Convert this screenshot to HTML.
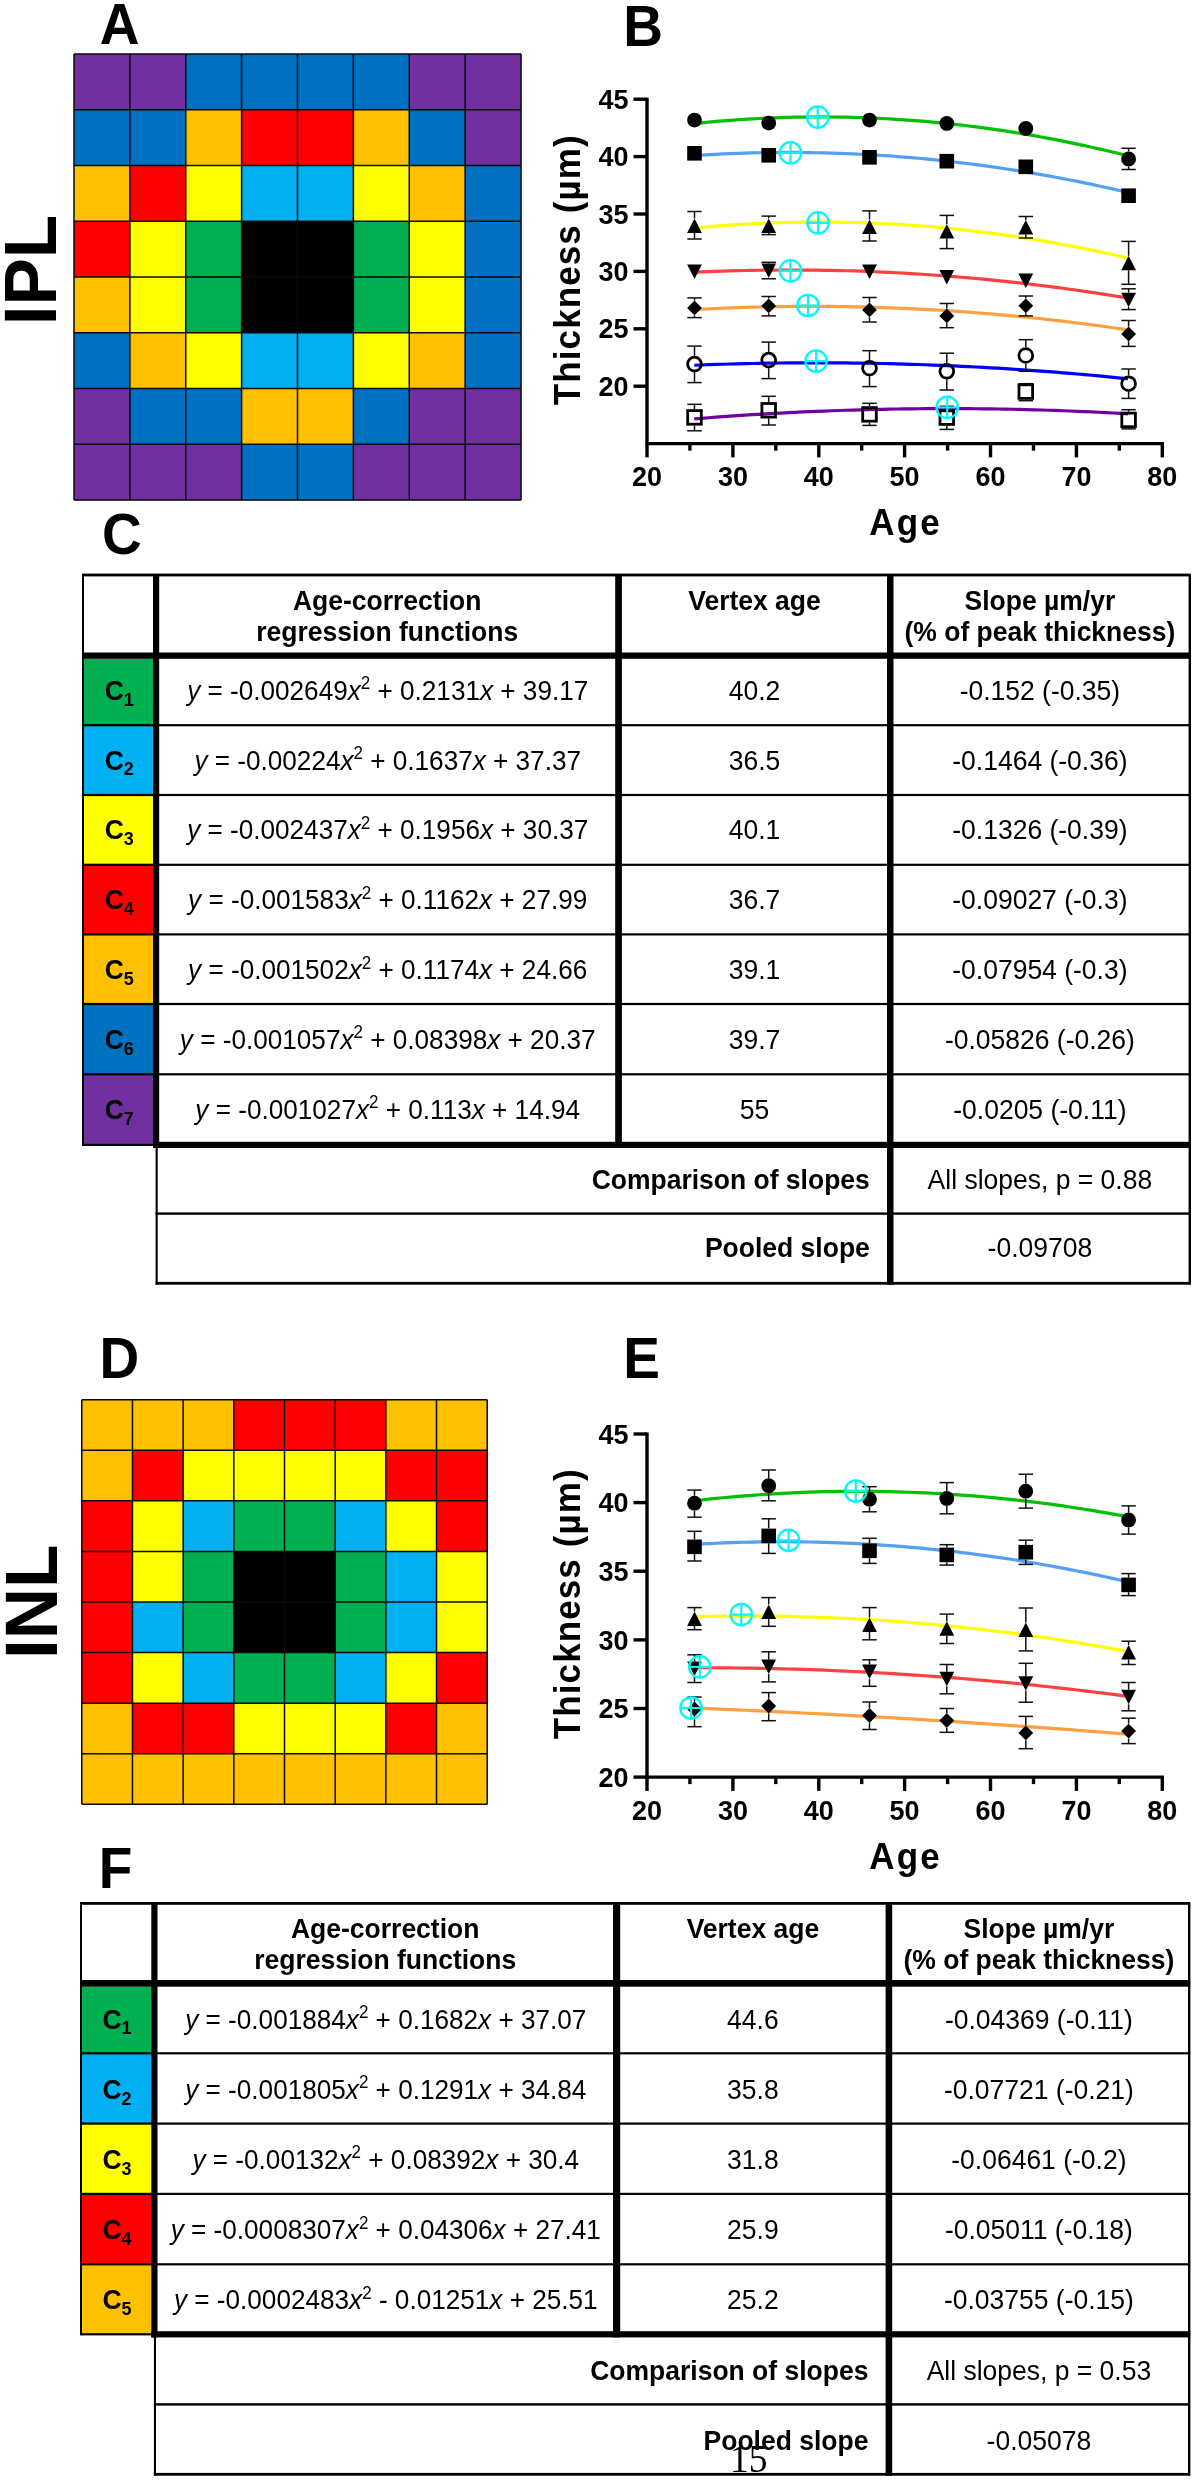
<!DOCTYPE html>
<html><head><meta charset="utf-8"><title>Figure</title><style>html,body{margin:0;padding:0;background:#fff;overflow:hidden}svg{display:block;will-change:transform}text{font-family:"Liberation Sans",sans-serif;fill:#000}</style></head><body>
<svg width="1195" height="2480" viewBox="0 0 1195 2480">
<rect x="0" y="0" width="1195" height="2480" fill="#fff"/>
<text x="99.8" y="43.7" font-size="55" font-weight="bold" text-anchor="start" transform="matrix(1 0 0 1.045 0 -1.97)" >A</text>
<text x="623.2" y="45.7" font-size="55" font-weight="bold" text-anchor="start" transform="matrix(1 0 0 1.045 0 -2.06)" >B</text>
<text x="102" y="553.8" font-size="55" font-weight="bold" text-anchor="start" transform="matrix(1 0 0 1.045 0 -24.92)" >C</text>
<text x="99.6" y="1378" font-size="55" font-weight="bold" text-anchor="start" transform="matrix(1 0 0 1.045 0 -62.01)" >D</text>
<text x="623.2" y="1377.9" font-size="55" font-weight="bold" text-anchor="start" transform="matrix(1 0 0 1.045 0 -62.01)" >E</text>
<text x="98.8" y="1887.7" font-size="55" font-weight="bold" text-anchor="start" transform="matrix(1 0 0 1.045 0 -84.95)" >F</text>
<text transform="translate(56.2,325.3) rotate(-90) scale(1,1.05)" font-size="71" font-weight="bold">IPL</text>
<text transform="translate(56.9,1659) rotate(-90) scale(1,1.05)" font-size="71" font-weight="bold">INL</text>
<rect x="74.00" y="54.00" width="56.17" height="56.05" fill="#7030A0"/>
<rect x="129.88" y="54.00" width="56.17" height="56.05" fill="#7030A0"/>
<rect x="185.75" y="54.00" width="56.17" height="56.05" fill="#0070C0"/>
<rect x="241.62" y="54.00" width="56.17" height="56.05" fill="#0070C0"/>
<rect x="297.50" y="54.00" width="56.17" height="56.05" fill="#0070C0"/>
<rect x="353.38" y="54.00" width="56.17" height="56.05" fill="#0070C0"/>
<rect x="409.25" y="54.00" width="56.17" height="56.05" fill="#7030A0"/>
<rect x="465.12" y="54.00" width="56.17" height="56.05" fill="#7030A0"/>
<rect x="74.00" y="109.75" width="56.17" height="56.05" fill="#0070C0"/>
<rect x="129.88" y="109.75" width="56.17" height="56.05" fill="#0070C0"/>
<rect x="185.75" y="109.75" width="56.17" height="56.05" fill="#FFC000"/>
<rect x="241.62" y="109.75" width="56.17" height="56.05" fill="#FF0000"/>
<rect x="297.50" y="109.75" width="56.17" height="56.05" fill="#FF0000"/>
<rect x="353.38" y="109.75" width="56.17" height="56.05" fill="#FFC000"/>
<rect x="409.25" y="109.75" width="56.17" height="56.05" fill="#0070C0"/>
<rect x="465.12" y="109.75" width="56.17" height="56.05" fill="#7030A0"/>
<rect x="74.00" y="165.50" width="56.17" height="56.05" fill="#FFC000"/>
<rect x="129.88" y="165.50" width="56.17" height="56.05" fill="#FF0000"/>
<rect x="185.75" y="165.50" width="56.17" height="56.05" fill="#FFFF00"/>
<rect x="241.62" y="165.50" width="56.17" height="56.05" fill="#00B0F0"/>
<rect x="297.50" y="165.50" width="56.17" height="56.05" fill="#00B0F0"/>
<rect x="353.38" y="165.50" width="56.17" height="56.05" fill="#FFFF00"/>
<rect x="409.25" y="165.50" width="56.17" height="56.05" fill="#FFC000"/>
<rect x="465.12" y="165.50" width="56.17" height="56.05" fill="#0070C0"/>
<rect x="74.00" y="221.25" width="56.17" height="56.05" fill="#FF0000"/>
<rect x="129.88" y="221.25" width="56.17" height="56.05" fill="#FFFF00"/>
<rect x="185.75" y="221.25" width="56.17" height="56.05" fill="#00B050"/>
<rect x="241.62" y="221.25" width="56.17" height="56.05" fill="#000000"/>
<rect x="297.50" y="221.25" width="56.17" height="56.05" fill="#000000"/>
<rect x="353.38" y="221.25" width="56.17" height="56.05" fill="#00B050"/>
<rect x="409.25" y="221.25" width="56.17" height="56.05" fill="#FFFF00"/>
<rect x="465.12" y="221.25" width="56.17" height="56.05" fill="#0070C0"/>
<rect x="74.00" y="277.00" width="56.17" height="56.05" fill="#FFC000"/>
<rect x="129.88" y="277.00" width="56.17" height="56.05" fill="#FFFF00"/>
<rect x="185.75" y="277.00" width="56.17" height="56.05" fill="#00B050"/>
<rect x="241.62" y="277.00" width="56.17" height="56.05" fill="#000000"/>
<rect x="297.50" y="277.00" width="56.17" height="56.05" fill="#000000"/>
<rect x="353.38" y="277.00" width="56.17" height="56.05" fill="#00B050"/>
<rect x="409.25" y="277.00" width="56.17" height="56.05" fill="#FFFF00"/>
<rect x="465.12" y="277.00" width="56.17" height="56.05" fill="#0070C0"/>
<rect x="74.00" y="332.75" width="56.17" height="56.05" fill="#0070C0"/>
<rect x="129.88" y="332.75" width="56.17" height="56.05" fill="#FFC000"/>
<rect x="185.75" y="332.75" width="56.17" height="56.05" fill="#FFFF00"/>
<rect x="241.62" y="332.75" width="56.17" height="56.05" fill="#00B0F0"/>
<rect x="297.50" y="332.75" width="56.17" height="56.05" fill="#00B0F0"/>
<rect x="353.38" y="332.75" width="56.17" height="56.05" fill="#FFFF00"/>
<rect x="409.25" y="332.75" width="56.17" height="56.05" fill="#FFC000"/>
<rect x="465.12" y="332.75" width="56.17" height="56.05" fill="#0070C0"/>
<rect x="74.00" y="388.50" width="56.17" height="56.05" fill="#7030A0"/>
<rect x="129.88" y="388.50" width="56.17" height="56.05" fill="#0070C0"/>
<rect x="185.75" y="388.50" width="56.17" height="56.05" fill="#0070C0"/>
<rect x="241.62" y="388.50" width="56.17" height="56.05" fill="#FFC000"/>
<rect x="297.50" y="388.50" width="56.17" height="56.05" fill="#FFC000"/>
<rect x="353.38" y="388.50" width="56.17" height="56.05" fill="#0070C0"/>
<rect x="409.25" y="388.50" width="56.17" height="56.05" fill="#7030A0"/>
<rect x="465.12" y="388.50" width="56.17" height="56.05" fill="#7030A0"/>
<rect x="74.00" y="444.25" width="56.17" height="56.05" fill="#7030A0"/>
<rect x="129.88" y="444.25" width="56.17" height="56.05" fill="#7030A0"/>
<rect x="185.75" y="444.25" width="56.17" height="56.05" fill="#7030A0"/>
<rect x="241.62" y="444.25" width="56.17" height="56.05" fill="#0070C0"/>
<rect x="297.50" y="444.25" width="56.17" height="56.05" fill="#0070C0"/>
<rect x="353.38" y="444.25" width="56.17" height="56.05" fill="#7030A0"/>
<rect x="409.25" y="444.25" width="56.17" height="56.05" fill="#7030A0"/>
<rect x="465.12" y="444.25" width="56.17" height="56.05" fill="#7030A0"/>
<line x1="74.00" y1="54.00" x2="74.00" y2="500.00" stroke="#0a0a0a" stroke-width="1.5"/>
<line x1="74.00" y1="54.00" x2="521.00" y2="54.00" stroke="#0a0a0a" stroke-width="1.5"/>
<line x1="129.88" y1="54.00" x2="129.88" y2="500.00" stroke="#0a0a0a" stroke-width="1.5"/>
<line x1="74.00" y1="109.75" x2="521.00" y2="109.75" stroke="#0a0a0a" stroke-width="1.5"/>
<line x1="185.75" y1="54.00" x2="185.75" y2="500.00" stroke="#0a0a0a" stroke-width="1.5"/>
<line x1="74.00" y1="165.50" x2="521.00" y2="165.50" stroke="#0a0a0a" stroke-width="1.5"/>
<line x1="241.62" y1="54.00" x2="241.62" y2="500.00" stroke="#0a0a0a" stroke-width="1.5"/>
<line x1="74.00" y1="221.25" x2="521.00" y2="221.25" stroke="#0a0a0a" stroke-width="1.5"/>
<line x1="297.50" y1="54.00" x2="297.50" y2="500.00" stroke="#0a0a0a" stroke-width="1.5"/>
<line x1="74.00" y1="277.00" x2="521.00" y2="277.00" stroke="#0a0a0a" stroke-width="1.5"/>
<line x1="353.38" y1="54.00" x2="353.38" y2="500.00" stroke="#0a0a0a" stroke-width="1.5"/>
<line x1="74.00" y1="332.75" x2="521.00" y2="332.75" stroke="#0a0a0a" stroke-width="1.5"/>
<line x1="409.25" y1="54.00" x2="409.25" y2="500.00" stroke="#0a0a0a" stroke-width="1.5"/>
<line x1="74.00" y1="388.50" x2="521.00" y2="388.50" stroke="#0a0a0a" stroke-width="1.5"/>
<line x1="465.12" y1="54.00" x2="465.12" y2="500.00" stroke="#0a0a0a" stroke-width="1.5"/>
<line x1="74.00" y1="444.25" x2="521.00" y2="444.25" stroke="#0a0a0a" stroke-width="1.5"/>
<line x1="521.00" y1="54.00" x2="521.00" y2="500.00" stroke="#0a0a0a" stroke-width="1.5"/>
<line x1="74.00" y1="500.00" x2="521.00" y2="500.00" stroke="#0a0a0a" stroke-width="1.5"/>
<rect x="81.80" y="1399.70" width="50.97" height="50.87" fill="#FFC000"/>
<rect x="132.47" y="1399.70" width="50.97" height="50.87" fill="#FFC000"/>
<rect x="183.15" y="1399.70" width="50.97" height="50.87" fill="#FFC000"/>
<rect x="233.82" y="1399.70" width="50.97" height="50.87" fill="#FF0000"/>
<rect x="284.50" y="1399.70" width="50.97" height="50.87" fill="#FF0000"/>
<rect x="335.18" y="1399.70" width="50.97" height="50.87" fill="#FF0000"/>
<rect x="385.85" y="1399.70" width="50.97" height="50.87" fill="#FFC000"/>
<rect x="436.52" y="1399.70" width="50.97" height="50.87" fill="#FFC000"/>
<rect x="81.80" y="1450.28" width="50.97" height="50.87" fill="#FFC000"/>
<rect x="132.47" y="1450.28" width="50.97" height="50.87" fill="#FF0000"/>
<rect x="183.15" y="1450.28" width="50.97" height="50.87" fill="#FFFF00"/>
<rect x="233.82" y="1450.28" width="50.97" height="50.87" fill="#FFFF00"/>
<rect x="284.50" y="1450.28" width="50.97" height="50.87" fill="#FFFF00"/>
<rect x="335.18" y="1450.28" width="50.97" height="50.87" fill="#FFFF00"/>
<rect x="385.85" y="1450.28" width="50.97" height="50.87" fill="#FF0000"/>
<rect x="436.52" y="1450.28" width="50.97" height="50.87" fill="#FF0000"/>
<rect x="81.80" y="1500.85" width="50.97" height="50.87" fill="#FF0000"/>
<rect x="132.47" y="1500.85" width="50.97" height="50.87" fill="#FFFF00"/>
<rect x="183.15" y="1500.85" width="50.97" height="50.87" fill="#00B0F0"/>
<rect x="233.82" y="1500.85" width="50.97" height="50.87" fill="#00B050"/>
<rect x="284.50" y="1500.85" width="50.97" height="50.87" fill="#00B050"/>
<rect x="335.18" y="1500.85" width="50.97" height="50.87" fill="#00B0F0"/>
<rect x="385.85" y="1500.85" width="50.97" height="50.87" fill="#FFFF00"/>
<rect x="436.52" y="1500.85" width="50.97" height="50.87" fill="#FF0000"/>
<rect x="81.80" y="1551.42" width="50.97" height="50.87" fill="#FF0000"/>
<rect x="132.47" y="1551.42" width="50.97" height="50.87" fill="#FFFF00"/>
<rect x="183.15" y="1551.42" width="50.97" height="50.87" fill="#00B050"/>
<rect x="233.82" y="1551.42" width="50.97" height="50.87" fill="#000000"/>
<rect x="284.50" y="1551.42" width="50.97" height="50.87" fill="#000000"/>
<rect x="335.18" y="1551.42" width="50.97" height="50.87" fill="#00B050"/>
<rect x="385.85" y="1551.42" width="50.97" height="50.87" fill="#00B0F0"/>
<rect x="436.52" y="1551.42" width="50.97" height="50.87" fill="#FFFF00"/>
<rect x="81.80" y="1602.00" width="50.97" height="50.87" fill="#FF0000"/>
<rect x="132.47" y="1602.00" width="50.97" height="50.87" fill="#00B0F0"/>
<rect x="183.15" y="1602.00" width="50.97" height="50.87" fill="#00B050"/>
<rect x="233.82" y="1602.00" width="50.97" height="50.87" fill="#000000"/>
<rect x="284.50" y="1602.00" width="50.97" height="50.87" fill="#000000"/>
<rect x="335.18" y="1602.00" width="50.97" height="50.87" fill="#00B050"/>
<rect x="385.85" y="1602.00" width="50.97" height="50.87" fill="#00B0F0"/>
<rect x="436.52" y="1602.00" width="50.97" height="50.87" fill="#FFFF00"/>
<rect x="81.80" y="1652.58" width="50.97" height="50.87" fill="#FF0000"/>
<rect x="132.47" y="1652.58" width="50.97" height="50.87" fill="#FFFF00"/>
<rect x="183.15" y="1652.58" width="50.97" height="50.87" fill="#00B0F0"/>
<rect x="233.82" y="1652.58" width="50.97" height="50.87" fill="#00B050"/>
<rect x="284.50" y="1652.58" width="50.97" height="50.87" fill="#00B050"/>
<rect x="335.18" y="1652.58" width="50.97" height="50.87" fill="#00B0F0"/>
<rect x="385.85" y="1652.58" width="50.97" height="50.87" fill="#FFFF00"/>
<rect x="436.52" y="1652.58" width="50.97" height="50.87" fill="#FF0000"/>
<rect x="81.80" y="1703.15" width="50.97" height="50.87" fill="#FFC000"/>
<rect x="132.47" y="1703.15" width="50.97" height="50.87" fill="#FF0000"/>
<rect x="183.15" y="1703.15" width="50.97" height="50.87" fill="#FF0000"/>
<rect x="233.82" y="1703.15" width="50.97" height="50.87" fill="#FFFF00"/>
<rect x="284.50" y="1703.15" width="50.97" height="50.87" fill="#FFFF00"/>
<rect x="335.18" y="1703.15" width="50.97" height="50.87" fill="#FFFF00"/>
<rect x="385.85" y="1703.15" width="50.97" height="50.87" fill="#FF0000"/>
<rect x="436.52" y="1703.15" width="50.97" height="50.87" fill="#FFC000"/>
<rect x="81.80" y="1753.72" width="50.97" height="50.87" fill="#FFC000"/>
<rect x="132.47" y="1753.72" width="50.97" height="50.87" fill="#FFC000"/>
<rect x="183.15" y="1753.72" width="50.97" height="50.87" fill="#FFC000"/>
<rect x="233.82" y="1753.72" width="50.97" height="50.87" fill="#FFC000"/>
<rect x="284.50" y="1753.72" width="50.97" height="50.87" fill="#FFC000"/>
<rect x="335.18" y="1753.72" width="50.97" height="50.87" fill="#FFC000"/>
<rect x="385.85" y="1753.72" width="50.97" height="50.87" fill="#FFC000"/>
<rect x="436.52" y="1753.72" width="50.97" height="50.87" fill="#FFC000"/>
<line x1="81.80" y1="1399.70" x2="81.80" y2="1804.30" stroke="#0a0a0a" stroke-width="1.5"/>
<line x1="81.80" y1="1399.70" x2="487.20" y2="1399.70" stroke="#0a0a0a" stroke-width="1.5"/>
<line x1="132.47" y1="1399.70" x2="132.47" y2="1804.30" stroke="#0a0a0a" stroke-width="1.5"/>
<line x1="81.80" y1="1450.28" x2="487.20" y2="1450.28" stroke="#0a0a0a" stroke-width="1.5"/>
<line x1="183.15" y1="1399.70" x2="183.15" y2="1804.30" stroke="#0a0a0a" stroke-width="1.5"/>
<line x1="81.80" y1="1500.85" x2="487.20" y2="1500.85" stroke="#0a0a0a" stroke-width="1.5"/>
<line x1="233.82" y1="1399.70" x2="233.82" y2="1804.30" stroke="#0a0a0a" stroke-width="1.5"/>
<line x1="81.80" y1="1551.42" x2="487.20" y2="1551.42" stroke="#0a0a0a" stroke-width="1.5"/>
<line x1="284.50" y1="1399.70" x2="284.50" y2="1804.30" stroke="#0a0a0a" stroke-width="1.5"/>
<line x1="81.80" y1="1602.00" x2="487.20" y2="1602.00" stroke="#0a0a0a" stroke-width="1.5"/>
<line x1="335.18" y1="1399.70" x2="335.18" y2="1804.30" stroke="#0a0a0a" stroke-width="1.5"/>
<line x1="81.80" y1="1652.58" x2="487.20" y2="1652.58" stroke="#0a0a0a" stroke-width="1.5"/>
<line x1="385.85" y1="1399.70" x2="385.85" y2="1804.30" stroke="#0a0a0a" stroke-width="1.5"/>
<line x1="81.80" y1="1703.15" x2="487.20" y2="1703.15" stroke="#0a0a0a" stroke-width="1.5"/>
<line x1="436.52" y1="1399.70" x2="436.52" y2="1804.30" stroke="#0a0a0a" stroke-width="1.5"/>
<line x1="81.80" y1="1753.72" x2="487.20" y2="1753.72" stroke="#0a0a0a" stroke-width="1.5"/>
<line x1="487.20" y1="1399.70" x2="487.20" y2="1804.30" stroke="#0a0a0a" stroke-width="1.5"/>
<line x1="81.80" y1="1804.30" x2="487.20" y2="1804.30" stroke="#0a0a0a" stroke-width="1.5"/>
<polyline points="694.23,123.52 701.46,122.79 708.69,122.10 715.92,121.45 723.15,120.85 730.38,120.29 737.60,119.77 744.83,119.30 752.06,118.87 759.29,118.48 766.52,118.14 773.74,117.84 780.97,117.58 788.20,117.36 795.43,117.19 802.66,117.06 809.89,116.98 817.11,116.93 824.34,116.93 831.57,116.98 838.80,117.06 846.03,117.19 853.26,117.37 860.48,117.58 867.71,117.84 874.94,118.14 882.17,118.49 889.40,118.88 896.62,119.31 903.85,119.78 911.08,120.30 918.31,120.86 925.54,121.46 932.77,122.11 939.99,122.80 947.22,123.53 954.45,124.31 961.68,125.13 968.91,125.99 976.14,126.89 983.36,127.84 990.59,128.83 997.82,129.87 1005.05,130.94 1012.28,132.07 1019.50,133.23 1026.73,134.44 1033.96,135.69 1041.19,136.98 1048.42,138.31 1055.65,139.69 1062.87,141.12 1070.10,142.58 1077.33,144.09 1084.56,145.64 1091.79,147.24 1099.02,148.87 1106.24,150.55 1113.47,152.28 1120.70,154.04 1127.93,155.85" fill="none" stroke="#00C000" stroke-width="3.2"/>
<polyline points="694.23,155.59 701.46,155.13 708.69,154.71 715.92,154.32 723.15,153.97 730.38,153.66 737.60,153.38 744.83,153.14 752.06,152.93 759.29,152.77 766.52,152.63 773.74,152.54 780.97,152.48 788.20,152.46 795.43,152.47 802.66,152.52 809.89,152.61 817.11,152.73 824.34,152.89 831.57,153.09 838.80,153.32 846.03,153.59 853.26,153.90 860.48,154.24 867.71,154.62 874.94,155.03 882.17,155.48 889.40,155.97 896.62,156.49 903.85,157.05 911.08,157.65 918.31,158.28 925.54,158.95 932.77,159.66 939.99,160.40 947.22,161.18 954.45,162.00 961.68,162.85 968.91,163.74 976.14,164.66 983.36,165.62 990.59,166.62 997.82,167.65 1005.05,168.73 1012.28,169.83 1019.50,170.98 1026.73,172.16 1033.96,173.37 1041.19,174.62 1048.42,175.91 1055.65,177.24 1062.87,178.60 1070.10,180.00 1077.33,181.43 1084.56,182.91 1091.79,184.41 1099.02,185.96 1106.24,187.54 1113.47,189.16 1120.70,190.81 1127.93,192.50" fill="none" stroke="#55A0F5" stroke-width="3.2"/>
<polyline points="694.23,228.08 701.46,227.42 708.69,226.79 715.92,226.20 723.15,225.65 730.38,225.13 737.60,224.66 744.83,224.23 752.06,223.84 759.29,223.49 766.52,223.18 773.74,222.90 780.97,222.67 788.20,222.48 795.43,222.32 802.66,222.21 809.89,222.13 817.11,222.10 824.34,222.10 831.57,222.15 838.80,222.23 846.03,222.35 853.26,222.52 860.48,222.72 867.71,222.96 874.94,223.24 882.17,223.57 889.40,223.93 896.62,224.33 903.85,224.77 911.08,225.25 918.31,225.77 925.54,226.33 932.77,226.93 939.99,227.57 947.22,228.25 954.45,228.96 961.68,229.72 968.91,230.52 976.14,231.36 983.36,232.23 990.59,233.15 997.82,234.10 1005.05,235.10 1012.28,236.14 1019.50,237.21 1026.73,238.32 1033.96,239.48 1041.19,240.67 1048.42,241.91 1055.65,243.18 1062.87,244.49 1070.10,245.84 1077.33,247.24 1084.56,248.67 1091.79,250.14 1099.02,251.65 1106.24,253.20 1113.47,254.79 1120.70,256.42 1127.93,258.09" fill="none" stroke="#FFFF00" stroke-width="3.2"/>
<polyline points="694.23,272.28 701.46,271.95 708.69,271.64 715.92,271.36 723.15,271.11 730.38,270.88 737.60,270.68 744.83,270.51 752.06,270.36 759.29,270.23 766.52,270.14 773.74,270.06 780.97,270.02 788.20,270.00 795.43,270.00 802.66,270.03 809.89,270.09 817.11,270.17 824.34,270.28 831.57,270.41 838.80,270.57 846.03,270.76 853.26,270.97 860.48,271.20 867.71,271.47 874.94,271.75 882.17,272.07 889.40,272.41 896.62,272.77 903.85,273.16 911.08,273.58 918.31,274.02 925.54,274.49 932.77,274.99 939.99,275.51 947.22,276.05 954.45,276.62 961.68,277.22 968.91,277.84 976.14,278.49 983.36,279.17 990.59,279.87 997.82,280.59 1005.05,281.34 1012.28,282.12 1019.50,282.92 1026.73,283.75 1033.96,284.61 1041.19,285.49 1048.42,286.39 1055.65,287.32 1062.87,288.28 1070.10,289.27 1077.33,290.27 1084.56,291.31 1091.79,292.37 1099.02,293.46 1106.24,294.57 1113.47,295.71 1120.70,296.87 1127.93,298.06" fill="none" stroke="#FF4040" stroke-width="3.2"/>
<polyline points="694.23,309.55 701.46,309.17 708.69,308.81 715.92,308.48 723.15,308.17 730.38,307.88 737.60,307.62 744.83,307.39 752.06,307.18 759.29,306.99 766.52,306.83 773.74,306.69 780.97,306.58 788.20,306.49 795.43,306.42 802.66,306.38 809.89,306.37 817.11,306.38 824.34,306.41 831.57,306.47 838.80,306.55 846.03,306.66 853.26,306.79 860.48,306.94 867.71,307.12 874.94,307.33 882.17,307.56 889.40,307.81 896.62,308.09 903.85,308.39 911.08,308.72 918.31,309.07 925.54,309.44 932.77,309.84 939.99,310.27 947.22,310.71 954.45,311.19 961.68,311.68 968.91,312.21 976.14,312.75 983.36,313.32 990.59,313.92 997.82,314.54 1005.05,315.18 1012.28,315.85 1019.50,316.54 1026.73,317.26 1033.96,318.00 1041.19,318.77 1048.42,319.56 1055.65,320.37 1062.87,321.21 1070.10,322.08 1077.33,322.97 1084.56,323.88 1091.79,324.82 1099.02,325.78 1106.24,326.76 1113.47,327.78 1120.70,328.81 1127.93,329.87" fill="none" stroke="#FFA040" stroke-width="3.2"/>
<polyline points="694.23,365.26 701.46,364.98 708.69,364.71 715.92,364.46 723.15,364.23 730.38,364.02 737.60,363.82 744.83,363.65 752.06,363.48 759.29,363.34 766.52,363.21 773.74,363.10 780.97,363.01 788.20,362.93 795.43,362.88 802.66,362.83 809.89,362.81 817.11,362.80 824.34,362.81 831.57,362.84 838.80,362.89 846.03,362.95 853.26,363.03 860.48,363.12 867.71,363.24 874.94,363.37 882.17,363.51 889.40,363.68 896.62,363.86 903.85,364.06 911.08,364.28 918.31,364.51 925.54,364.76 932.77,365.03 939.99,365.32 947.22,365.62 954.45,365.94 961.68,366.28 968.91,366.63 976.14,367.00 983.36,367.39 990.59,367.79 997.82,368.22 1005.05,368.66 1012.28,369.12 1019.50,369.59 1026.73,370.08 1033.96,370.59 1041.19,371.12 1048.42,371.66 1055.65,372.22 1062.87,372.80 1070.10,373.39 1077.33,374.00 1084.56,374.63 1091.79,375.28 1099.02,375.94 1106.24,376.62 1113.47,377.32 1120.70,378.04 1127.93,378.77" fill="none" stroke="#0000FF" stroke-width="3.2"/>
<polyline points="694.23,418.88 701.46,418.30 708.69,417.74 715.92,417.19 723.15,416.67 730.38,416.16 737.60,415.66 744.83,415.18 752.06,414.72 759.29,414.28 766.52,413.85 773.74,413.44 780.97,413.05 788.20,412.67 795.43,412.31 802.66,411.97 809.89,411.64 817.11,411.33 824.34,411.04 831.57,410.76 838.80,410.50 846.03,410.26 853.26,410.03 860.48,409.82 867.71,409.63 874.94,409.45 882.17,409.29 889.40,409.15 896.62,409.02 903.85,408.91 911.08,408.82 918.31,408.74 925.54,408.68 932.77,408.64 939.99,408.61 947.22,408.61 954.45,408.61 961.68,408.64 968.91,408.68 976.14,408.73 983.36,408.81 990.59,408.90 997.82,409.01 1005.05,409.13 1012.28,409.27 1019.50,409.43 1026.73,409.60 1033.96,409.79 1041.19,410.00 1048.42,410.23 1055.65,410.47 1062.87,410.73 1070.10,411.00 1077.33,411.29 1084.56,411.60 1091.79,411.92 1099.02,412.27 1106.24,412.62 1113.47,413.00 1120.70,413.39 1127.93,413.80" fill="none" stroke="#7000A0" stroke-width="3.2"/>
<line x1="1128.6" y1="148.3" x2="1128.6" y2="151.5" stroke="#111" stroke-width="1.5"/>
<line x1="1128.6" y1="166.3" x2="1128.6" y2="169.5" stroke="#111" stroke-width="1.5"/>
<line x1="1121.4" y1="148.3" x2="1135.8" y2="148.3" stroke="#111" stroke-width="1.5"/>
<line x1="1121.4" y1="169.5" x2="1135.8" y2="169.5" stroke="#111" stroke-width="1.5"/>
<line x1="694.5" y1="211.5" x2="694.5" y2="218.4" stroke="#111" stroke-width="1.5"/>
<line x1="694.5" y1="232.9" x2="694.5" y2="239.0" stroke="#111" stroke-width="1.5"/>
<line x1="687.3" y1="211.5" x2="701.7" y2="211.5" stroke="#111" stroke-width="1.5"/>
<line x1="687.3" y1="239.0" x2="701.7" y2="239.0" stroke="#111" stroke-width="1.5"/>
<line x1="768.7" y1="216.1" x2="768.7" y2="218.4" stroke="#111" stroke-width="1.5"/>
<line x1="768.7" y1="232.9" x2="768.7" y2="234.6" stroke="#111" stroke-width="1.5"/>
<line x1="761.5" y1="216.1" x2="775.9" y2="216.1" stroke="#111" stroke-width="1.5"/>
<line x1="761.5" y1="234.6" x2="775.9" y2="234.6" stroke="#111" stroke-width="1.5"/>
<line x1="869.5" y1="210.9" x2="869.5" y2="219.4" stroke="#111" stroke-width="1.5"/>
<line x1="869.5" y1="233.9" x2="869.5" y2="241.0" stroke="#111" stroke-width="1.5"/>
<line x1="862.3" y1="210.9" x2="876.7" y2="210.9" stroke="#111" stroke-width="1.5"/>
<line x1="862.3" y1="241.0" x2="876.7" y2="241.0" stroke="#111" stroke-width="1.5"/>
<line x1="946.8" y1="215.4" x2="946.8" y2="224.1" stroke="#111" stroke-width="1.5"/>
<line x1="946.8" y1="238.6" x2="946.8" y2="248.6" stroke="#111" stroke-width="1.5"/>
<line x1="939.6" y1="215.4" x2="954.0" y2="215.4" stroke="#111" stroke-width="1.5"/>
<line x1="939.6" y1="248.6" x2="954.0" y2="248.6" stroke="#111" stroke-width="1.5"/>
<line x1="1025.8" y1="216.5" x2="1025.8" y2="220.1" stroke="#111" stroke-width="1.5"/>
<line x1="1025.8" y1="234.6" x2="1025.8" y2="238.0" stroke="#111" stroke-width="1.5"/>
<line x1="1018.6" y1="216.5" x2="1033.0" y2="216.5" stroke="#111" stroke-width="1.5"/>
<line x1="1018.6" y1="238.0" x2="1033.0" y2="238.0" stroke="#111" stroke-width="1.5"/>
<line x1="1128.6" y1="241.4" x2="1128.6" y2="255.8" stroke="#111" stroke-width="1.5"/>
<line x1="1128.6" y1="270.3" x2="1128.6" y2="284.3" stroke="#111" stroke-width="1.5"/>
<line x1="1121.4" y1="241.4" x2="1135.8" y2="241.4" stroke="#111" stroke-width="1.5"/>
<line x1="1121.4" y1="284.3" x2="1135.8" y2="284.3" stroke="#111" stroke-width="1.5"/>
<line x1="768.7" y1="262.3" x2="768.7" y2="263.5" stroke="#111" stroke-width="1.5"/>
<line x1="768.7" y1="278.0" x2="768.7" y2="278.8" stroke="#111" stroke-width="1.5"/>
<line x1="761.5" y1="262.3" x2="775.9" y2="262.3" stroke="#111" stroke-width="1.5"/>
<line x1="761.5" y1="278.8" x2="775.9" y2="278.8" stroke="#111" stroke-width="1.5"/>
<line x1="1128.6" y1="288.8" x2="1128.6" y2="292.7" stroke="#111" stroke-width="1.5"/>
<line x1="1128.6" y1="307.2" x2="1128.6" y2="309.6" stroke="#111" stroke-width="1.5"/>
<line x1="1121.4" y1="288.8" x2="1135.8" y2="288.8" stroke="#111" stroke-width="1.5"/>
<line x1="1121.4" y1="309.6" x2="1135.8" y2="309.6" stroke="#111" stroke-width="1.5"/>
<line x1="694.5" y1="297.9" x2="694.5" y2="300.5" stroke="#111" stroke-width="1.5"/>
<line x1="694.5" y1="315.3" x2="694.5" y2="317.6" stroke="#111" stroke-width="1.5"/>
<line x1="687.3" y1="297.9" x2="701.7" y2="297.9" stroke="#111" stroke-width="1.5"/>
<line x1="687.3" y1="317.6" x2="701.7" y2="317.6" stroke="#111" stroke-width="1.5"/>
<line x1="768.7" y1="296.5" x2="768.7" y2="298.5" stroke="#111" stroke-width="1.5"/>
<line x1="768.7" y1="313.3" x2="768.7" y2="315.9" stroke="#111" stroke-width="1.5"/>
<line x1="761.5" y1="296.5" x2="775.9" y2="296.5" stroke="#111" stroke-width="1.5"/>
<line x1="761.5" y1="315.9" x2="775.9" y2="315.9" stroke="#111" stroke-width="1.5"/>
<line x1="869.5" y1="297.5" x2="869.5" y2="302.5" stroke="#111" stroke-width="1.5"/>
<line x1="869.5" y1="317.3" x2="869.5" y2="322.0" stroke="#111" stroke-width="1.5"/>
<line x1="862.3" y1="297.5" x2="876.7" y2="297.5" stroke="#111" stroke-width="1.5"/>
<line x1="862.3" y1="322.0" x2="876.7" y2="322.0" stroke="#111" stroke-width="1.5"/>
<line x1="946.8" y1="303.5" x2="946.8" y2="308.5" stroke="#111" stroke-width="1.5"/>
<line x1="946.8" y1="323.3" x2="946.8" y2="327.7" stroke="#111" stroke-width="1.5"/>
<line x1="939.6" y1="303.5" x2="954.0" y2="303.5" stroke="#111" stroke-width="1.5"/>
<line x1="939.6" y1="327.7" x2="954.0" y2="327.7" stroke="#111" stroke-width="1.5"/>
<line x1="1025.8" y1="296.0" x2="1025.8" y2="298.4" stroke="#111" stroke-width="1.5"/>
<line x1="1025.8" y1="313.2" x2="1025.8" y2="315.9" stroke="#111" stroke-width="1.5"/>
<line x1="1018.6" y1="296.0" x2="1033.0" y2="296.0" stroke="#111" stroke-width="1.5"/>
<line x1="1018.6" y1="315.9" x2="1033.0" y2="315.9" stroke="#111" stroke-width="1.5"/>
<line x1="1128.6" y1="320.5" x2="1128.6" y2="326.6" stroke="#111" stroke-width="1.5"/>
<line x1="1128.6" y1="341.4" x2="1128.6" y2="346.4" stroke="#111" stroke-width="1.5"/>
<line x1="1121.4" y1="320.5" x2="1135.8" y2="320.5" stroke="#111" stroke-width="1.5"/>
<line x1="1121.4" y1="346.4" x2="1135.8" y2="346.4" stroke="#111" stroke-width="1.5"/>
<line x1="694.5" y1="346.1" x2="694.5" y2="355.9" stroke="#111" stroke-width="1.5"/>
<line x1="694.5" y1="372.3" x2="694.5" y2="382.6" stroke="#111" stroke-width="1.5"/>
<line x1="687.3" y1="346.1" x2="701.7" y2="346.1" stroke="#111" stroke-width="1.5"/>
<line x1="687.3" y1="382.6" x2="701.7" y2="382.6" stroke="#111" stroke-width="1.5"/>
<line x1="768.7" y1="342.1" x2="768.7" y2="351.9" stroke="#111" stroke-width="1.5"/>
<line x1="768.7" y1="368.3" x2="768.7" y2="378.6" stroke="#111" stroke-width="1.5"/>
<line x1="761.5" y1="342.1" x2="775.9" y2="342.1" stroke="#111" stroke-width="1.5"/>
<line x1="761.5" y1="378.6" x2="775.9" y2="378.6" stroke="#111" stroke-width="1.5"/>
<line x1="869.5" y1="350.7" x2="869.5" y2="360.0" stroke="#111" stroke-width="1.5"/>
<line x1="869.5" y1="376.4" x2="869.5" y2="386.6" stroke="#111" stroke-width="1.5"/>
<line x1="862.3" y1="350.7" x2="876.7" y2="350.7" stroke="#111" stroke-width="1.5"/>
<line x1="862.3" y1="386.6" x2="876.7" y2="386.6" stroke="#111" stroke-width="1.5"/>
<line x1="946.8" y1="353.2" x2="946.8" y2="363.1" stroke="#111" stroke-width="1.5"/>
<line x1="946.8" y1="379.5" x2="946.8" y2="390.0" stroke="#111" stroke-width="1.5"/>
<line x1="939.6" y1="353.2" x2="954.0" y2="353.2" stroke="#111" stroke-width="1.5"/>
<line x1="939.6" y1="390.0" x2="954.0" y2="390.0" stroke="#111" stroke-width="1.5"/>
<line x1="1025.8" y1="339.7" x2="1025.8" y2="347.3" stroke="#111" stroke-width="1.5"/>
<line x1="1025.8" y1="363.7" x2="1025.8" y2="371.3" stroke="#111" stroke-width="1.5"/>
<line x1="1018.6" y1="339.7" x2="1033.0" y2="339.7" stroke="#111" stroke-width="1.5"/>
<line x1="1018.6" y1="371.3" x2="1033.0" y2="371.3" stroke="#111" stroke-width="1.5"/>
<line x1="1128.6" y1="369.0" x2="1128.6" y2="375.5" stroke="#111" stroke-width="1.5"/>
<line x1="1128.6" y1="391.9" x2="1128.6" y2="398.4" stroke="#111" stroke-width="1.5"/>
<line x1="1121.4" y1="369.0" x2="1135.8" y2="369.0" stroke="#111" stroke-width="1.5"/>
<line x1="1121.4" y1="398.4" x2="1135.8" y2="398.4" stroke="#111" stroke-width="1.5"/>
<line x1="694.5" y1="404.3" x2="694.5" y2="409.2" stroke="#111" stroke-width="1.5"/>
<line x1="694.5" y1="425.6" x2="694.5" y2="430.8" stroke="#111" stroke-width="1.5"/>
<line x1="687.3" y1="404.3" x2="701.7" y2="404.3" stroke="#111" stroke-width="1.5"/>
<line x1="687.3" y1="430.8" x2="701.7" y2="430.8" stroke="#111" stroke-width="1.5"/>
<line x1="768.7" y1="396.3" x2="768.7" y2="402.1" stroke="#111" stroke-width="1.5"/>
<line x1="768.7" y1="418.5" x2="768.7" y2="425.0" stroke="#111" stroke-width="1.5"/>
<line x1="761.5" y1="396.3" x2="775.9" y2="396.3" stroke="#111" stroke-width="1.5"/>
<line x1="761.5" y1="425.0" x2="775.9" y2="425.0" stroke="#111" stroke-width="1.5"/>
<line x1="869.5" y1="403.3" x2="869.5" y2="406.2" stroke="#111" stroke-width="1.5"/>
<line x1="869.5" y1="422.6" x2="869.5" y2="425.4" stroke="#111" stroke-width="1.5"/>
<line x1="862.3" y1="403.3" x2="876.7" y2="403.3" stroke="#111" stroke-width="1.5"/>
<line x1="862.3" y1="425.4" x2="876.7" y2="425.4" stroke="#111" stroke-width="1.5"/>
<line x1="946.8" y1="406.3" x2="946.8" y2="409.4" stroke="#111" stroke-width="1.5"/>
<line x1="946.8" y1="425.8" x2="946.8" y2="429.4" stroke="#111" stroke-width="1.5"/>
<line x1="939.6" y1="406.3" x2="954.0" y2="406.3" stroke="#111" stroke-width="1.5"/>
<line x1="939.6" y1="429.4" x2="954.0" y2="429.4" stroke="#111" stroke-width="1.5"/>
<line x1="1025.8" y1="399.8" x2="1025.8" y2="400.7" stroke="#111" stroke-width="1.5"/>
<line x1="1018.6" y1="383.7" x2="1033.0" y2="383.7" stroke="#111" stroke-width="1.5"/>
<line x1="1018.6" y1="400.7" x2="1033.0" y2="400.7" stroke="#111" stroke-width="1.5"/>
<line x1="1128.6" y1="409.7" x2="1128.6" y2="411.7" stroke="#111" stroke-width="1.5"/>
<line x1="1128.6" y1="428.1" x2="1128.6" y2="428.9" stroke="#111" stroke-width="1.5"/>
<line x1="1121.4" y1="409.7" x2="1135.8" y2="409.7" stroke="#111" stroke-width="1.5"/>
<line x1="1121.4" y1="428.9" x2="1135.8" y2="428.9" stroke="#111" stroke-width="1.5"/>
<circle cx="694.5" cy="120.1" r="7.4" fill="#000"/>
<circle cx="768.7" cy="123.1" r="7.4" fill="#000"/>
<circle cx="869.5" cy="120.1" r="7.4" fill="#000"/>
<circle cx="946.8" cy="123.4" r="7.4" fill="#000"/>
<circle cx="1025.8" cy="128.4" r="7.4" fill="#000"/>
<circle cx="1128.6" cy="158.9" r="7.4" fill="#000"/>
<rect x="687.2" y="146.0" width="14.6" height="14.6" fill="#000"/>
<rect x="761.4" y="148.0" width="14.6" height="14.6" fill="#000"/>
<rect x="862.2" y="150.0" width="14.6" height="14.6" fill="#000"/>
<rect x="939.5" y="153.9" width="14.6" height="14.6" fill="#000"/>
<rect x="1018.5" y="159.5" width="14.6" height="14.6" fill="#000"/>
<rect x="1121.3" y="188.4" width="14.6" height="14.6" fill="#000"/>
<path d="M694.5,218.4 L701.9,232.9 L687.1,232.9 Z" fill="#000"/>
<path d="M768.7,218.4 L776.1,232.9 L761.3,232.9 Z" fill="#000"/>
<path d="M869.5,219.4 L876.9,233.9 L862.1,233.9 Z" fill="#000"/>
<path d="M946.8,224.1 L954.2,238.6 L939.4,238.6 Z" fill="#000"/>
<path d="M1025.8,220.1 L1033.2,234.6 L1018.4,234.6 Z" fill="#000"/>
<path d="M1128.6,255.8 L1136.0,270.3 L1121.2,270.3 Z" fill="#000"/>
<path d="M694.5,279.0 L701.9,264.5 L687.1,264.5 Z" fill="#000"/>
<path d="M768.7,278.0 L776.1,263.5 L761.3,263.5 Z" fill="#000"/>
<path d="M869.5,279.0 L876.9,264.5 L862.1,264.5 Z" fill="#000"/>
<path d="M946.8,284.6 L954.2,270.1 L939.4,270.1 Z" fill="#000"/>
<path d="M1025.8,288.0 L1033.2,273.5 L1018.4,273.5 Z" fill="#000"/>
<path d="M1128.6,307.2 L1136.0,292.7 L1121.2,292.7 Z" fill="#000"/>
<path d="M694.5,300.5 L701.9,307.9 L694.5,315.3 L687.1,307.9 Z" fill="#000"/>
<path d="M768.7,298.5 L776.1,305.9 L768.7,313.3 L761.3,305.9 Z" fill="#000"/>
<path d="M869.5,302.5 L876.9,309.9 L869.5,317.3 L862.1,309.9 Z" fill="#000"/>
<path d="M946.8,308.5 L954.2,315.9 L946.8,323.3 L939.4,315.9 Z" fill="#000"/>
<path d="M1025.8,298.4 L1033.2,305.8 L1025.8,313.2 L1018.4,305.8 Z" fill="#000"/>
<path d="M1128.6,326.6 L1136.0,334.0 L1128.6,341.4 L1121.2,334.0 Z" fill="#000"/>
<circle cx="694.5" cy="364.1" r="6.9" fill="none" stroke="#000" stroke-width="2.8"/>
<circle cx="768.7" cy="360.1" r="6.9" fill="none" stroke="#000" stroke-width="2.8"/>
<circle cx="869.5" cy="368.2" r="6.9" fill="none" stroke="#000" stroke-width="2.8"/>
<circle cx="946.8" cy="371.3" r="6.9" fill="none" stroke="#000" stroke-width="2.8"/>
<circle cx="1025.8" cy="355.5" r="6.9" fill="none" stroke="#000" stroke-width="2.8"/>
<circle cx="1128.6" cy="383.7" r="6.9" fill="none" stroke="#000" stroke-width="2.8"/>
<rect x="687.7" y="410.6" width="13.6" height="13.6" fill="none" stroke="#000" stroke-width="2.8"/>
<rect x="761.9" y="403.5" width="13.6" height="13.6" fill="none" stroke="#000" stroke-width="2.8"/>
<rect x="862.7" y="407.6" width="13.6" height="13.6" fill="none" stroke="#000" stroke-width="2.8"/>
<rect x="940.0" y="410.8" width="13.6" height="13.6" fill="none" stroke="#000" stroke-width="2.8"/>
<rect x="1019.0" y="384.8" width="13.6" height="13.6" fill="none" stroke="#000" stroke-width="2.8"/>
<rect x="1121.8" y="413.1" width="13.6" height="13.6" fill="none" stroke="#000" stroke-width="2.8"/>
<circle cx="817.7" cy="117.1" r="10.7" fill="none" stroke="#00F8F8" stroke-width="2.3"/>
<line x1="807.0" y1="117.1" x2="828.4" y2="117.1" stroke="#00F8F8" stroke-width="2.1"/>
<line x1="817.7" y1="106.4" x2="817.7" y2="127.8" stroke="#00F8F8" stroke-width="2.1"/>
<circle cx="790.5" cy="152.9" r="10.7" fill="none" stroke="#00F8F8" stroke-width="2.3"/>
<line x1="779.8" y1="152.9" x2="801.2" y2="152.9" stroke="#00F8F8" stroke-width="2.1"/>
<line x1="790.5" y1="142.2" x2="790.5" y2="163.6" stroke="#00F8F8" stroke-width="2.1"/>
<circle cx="818.1" cy="222.8" r="10.7" fill="none" stroke="#00F8F8" stroke-width="2.3"/>
<line x1="807.4" y1="222.8" x2="828.8" y2="222.8" stroke="#00F8F8" stroke-width="2.1"/>
<line x1="818.1" y1="212.1" x2="818.1" y2="233.5" stroke="#00F8F8" stroke-width="2.1"/>
<circle cx="790.5" cy="270.8" r="10.7" fill="none" stroke="#00F8F8" stroke-width="2.3"/>
<line x1="779.8" y1="270.8" x2="801.2" y2="270.8" stroke="#00F8F8" stroke-width="2.1"/>
<line x1="790.5" y1="260.1" x2="790.5" y2="281.5" stroke="#00F8F8" stroke-width="2.1"/>
<circle cx="808.0" cy="305.5" r="10.7" fill="none" stroke="#00F8F8" stroke-width="2.3"/>
<line x1="797.3" y1="305.5" x2="818.7" y2="305.5" stroke="#00F8F8" stroke-width="2.1"/>
<line x1="808.0" y1="294.8" x2="808.0" y2="316.2" stroke="#00F8F8" stroke-width="2.1"/>
<circle cx="816.1" cy="361.1" r="10.7" fill="none" stroke="#00F8F8" stroke-width="2.3"/>
<line x1="805.4" y1="361.1" x2="826.8" y2="361.1" stroke="#00F8F8" stroke-width="2.1"/>
<line x1="816.1" y1="350.4" x2="816.1" y2="371.8" stroke="#00F8F8" stroke-width="2.1"/>
<circle cx="947.2" cy="407.4" r="10.7" fill="none" stroke="#00F8F8" stroke-width="2.3"/>
<line x1="936.5" y1="407.4" x2="957.9" y2="407.4" stroke="#00F8F8" stroke-width="2.1"/>
<line x1="947.2" y1="396.7" x2="947.2" y2="418.1" stroke="#00F8F8" stroke-width="2.1"/>
<path d="M647.0,97.7 V443.6 H1163.9" fill="none" stroke="#000" stroke-width="3.4"/>
<line x1="633.5" y1="386.2" x2="647.0" y2="386.2" stroke="#000" stroke-width="3.4"/>
<text x="628.5" y="395.9" font-size="27" font-weight="bold" text-anchor="end" transform="matrix(1 0 0 1.03 0 -11.88)" >20</text>
<line x1="633.5" y1="328.8" x2="647.0" y2="328.8" stroke="#000" stroke-width="3.4"/>
<text x="628.5" y="338.5" font-size="27" font-weight="bold" text-anchor="end" transform="matrix(1 0 0 1.03 0 -10.16)" >25</text>
<line x1="633.5" y1="271.4" x2="647.0" y2="271.4" stroke="#000" stroke-width="3.4"/>
<text x="628.5" y="281.1" font-size="27" font-weight="bold" text-anchor="end" transform="matrix(1 0 0 1.03 0 -8.43)" >30</text>
<line x1="633.5" y1="214.0" x2="647.0" y2="214.0" stroke="#000" stroke-width="3.4"/>
<text x="628.5" y="223.7" font-size="27" font-weight="bold" text-anchor="end" transform="matrix(1 0 0 1.03 0 -6.71)" >35</text>
<line x1="633.5" y1="156.6" x2="647.0" y2="156.6" stroke="#000" stroke-width="3.4"/>
<text x="628.5" y="166.3" font-size="27" font-weight="bold" text-anchor="end" transform="matrix(1 0 0 1.03 0 -4.99)" >40</text>
<line x1="633.5" y1="99.2" x2="647.0" y2="99.2" stroke="#000" stroke-width="3.4"/>
<text x="628.5" y="108.9" font-size="27" font-weight="bold" text-anchor="end" transform="matrix(1 0 0 1.03 0 -3.27)" >45</text>
<line x1="647.0" y1="443.6" x2="647.0" y2="457.4" stroke="#000" stroke-width="3.4"/>
<text x="647.0" y="486.2" font-size="27" font-weight="bold" text-anchor="middle" transform="matrix(1 0 0 1.03 0 -14.59)" >20</text>
<line x1="689.9" y1="443.6" x2="689.9" y2="450.6" stroke="#000" stroke-width="3.4"/>
<line x1="732.9" y1="443.6" x2="732.9" y2="457.4" stroke="#000" stroke-width="3.4"/>
<text x="732.9" y="486.2" font-size="27" font-weight="bold" text-anchor="middle" transform="matrix(1 0 0 1.03 0 -14.59)" >30</text>
<line x1="775.8" y1="443.6" x2="775.8" y2="450.6" stroke="#000" stroke-width="3.4"/>
<line x1="818.8" y1="443.6" x2="818.8" y2="457.4" stroke="#000" stroke-width="3.4"/>
<text x="818.8" y="486.2" font-size="27" font-weight="bold" text-anchor="middle" transform="matrix(1 0 0 1.03 0 -14.59)" >40</text>
<line x1="861.7" y1="443.6" x2="861.7" y2="450.6" stroke="#000" stroke-width="3.4"/>
<line x1="904.6" y1="443.6" x2="904.6" y2="457.4" stroke="#000" stroke-width="3.4"/>
<text x="904.6" y="486.2" font-size="27" font-weight="bold" text-anchor="middle" transform="matrix(1 0 0 1.03 0 -14.59)" >50</text>
<line x1="947.6" y1="443.6" x2="947.6" y2="450.6" stroke="#000" stroke-width="3.4"/>
<line x1="990.5" y1="443.6" x2="990.5" y2="457.4" stroke="#000" stroke-width="3.4"/>
<text x="990.5" y="486.2" font-size="27" font-weight="bold" text-anchor="middle" transform="matrix(1 0 0 1.03 0 -14.59)" >60</text>
<line x1="1033.5" y1="443.6" x2="1033.5" y2="450.6" stroke="#000" stroke-width="3.4"/>
<line x1="1076.4" y1="443.6" x2="1076.4" y2="457.4" stroke="#000" stroke-width="3.4"/>
<text x="1076.4" y="486.2" font-size="27" font-weight="bold" text-anchor="middle" transform="matrix(1 0 0 1.03 0 -14.59)" >70</text>
<line x1="1119.3" y1="443.6" x2="1119.3" y2="450.6" stroke="#000" stroke-width="3.4"/>
<line x1="1162.3" y1="443.6" x2="1162.3" y2="457.4" stroke="#000" stroke-width="3.4"/>
<text x="1162.3" y="486.2" font-size="27" font-weight="bold" text-anchor="middle" transform="matrix(1 0 0 1.03 0 -14.59)" >80</text>
<text transform="translate(579.6,405.2) rotate(-90) scale(1,1.05)" font-size="35" font-weight="bold" letter-spacing="1.1">Thickness (µm)</text>
<text x="869.3" y="535" font-size="35" font-weight="bold" text-anchor="start" transform="matrix(1 0 0 1.04 0 -21.40)" letter-spacing="2.2">Age</text>
<polyline points="694.23,1500.78 701.46,1499.97 708.69,1499.19 715.92,1498.45 723.15,1497.74 730.38,1497.07 737.60,1496.44 744.83,1495.85 752.06,1495.29 759.29,1494.77 766.52,1494.28 773.74,1493.83 780.97,1493.42 788.20,1493.05 795.43,1492.71 802.66,1492.41 809.89,1492.14 817.11,1491.91 824.34,1491.72 831.57,1491.57 838.80,1491.45 846.03,1491.36 853.26,1491.32 860.48,1491.31 867.71,1491.34 874.94,1491.40 882.17,1491.50 889.40,1491.64 896.62,1491.82 903.85,1492.03 911.08,1492.27 918.31,1492.56 925.54,1492.88 932.77,1493.24 939.99,1493.63 947.22,1494.06 954.45,1494.53 961.68,1495.03 968.91,1495.58 976.14,1496.15 983.36,1496.77 990.59,1497.42 997.82,1498.10 1005.05,1498.83 1012.28,1499.59 1019.50,1500.39 1026.73,1501.22 1033.96,1502.09 1041.19,1503.00 1048.42,1503.94 1055.65,1504.92 1062.87,1505.94 1070.10,1506.99 1077.33,1508.08 1084.56,1509.21 1091.79,1510.37 1099.02,1511.57 1106.24,1512.81 1113.47,1514.08 1120.70,1515.39 1127.93,1516.74" fill="none" stroke="#00C000" stroke-width="3.2"/>
<polyline points="694.23,1544.36 701.46,1543.95 708.69,1543.58 715.92,1543.24 723.15,1542.93 730.38,1542.66 737.60,1542.43 744.83,1542.23 752.06,1542.06 759.29,1541.93 766.52,1541.84 773.74,1541.78 780.97,1541.76 788.20,1541.77 795.43,1541.81 802.66,1541.89 809.89,1542.01 817.11,1542.16 824.34,1542.35 831.57,1542.57 838.80,1542.82 846.03,1543.12 853.26,1543.44 860.48,1543.80 867.71,1544.20 874.94,1544.63 882.17,1545.10 889.40,1545.60 896.62,1546.14 903.85,1546.71 911.08,1547.32 918.31,1547.96 925.54,1548.64 932.77,1549.35 939.99,1550.10 947.22,1550.88 954.45,1551.70 961.68,1552.55 968.91,1553.44 976.14,1554.37 983.36,1555.32 990.59,1556.32 997.82,1557.35 1005.05,1558.41 1012.28,1559.51 1019.50,1560.64 1026.73,1561.81 1033.96,1563.02 1041.19,1564.26 1048.42,1565.53 1055.65,1566.84 1062.87,1568.18 1070.10,1569.56 1077.33,1570.98 1084.56,1572.43 1091.79,1573.91 1099.02,1575.43 1106.24,1576.99 1113.47,1578.58 1120.70,1580.20 1127.93,1581.86" fill="none" stroke="#55A0F5" stroke-width="3.2"/>
<polyline points="694.23,1616.78 701.46,1616.60 708.69,1616.45 715.92,1616.32 723.15,1616.22 730.38,1616.14 737.60,1616.09 744.83,1616.07 752.06,1616.07 759.29,1616.10 766.52,1616.15 773.74,1616.22 780.97,1616.33 788.20,1616.46 795.43,1616.61 802.66,1616.79 809.89,1617.00 817.11,1617.23 824.34,1617.49 831.57,1617.77 838.80,1618.08 846.03,1618.41 853.26,1618.77 860.48,1619.16 867.71,1619.57 874.94,1620.01 882.17,1620.47 889.40,1620.96 896.62,1621.47 903.85,1622.01 911.08,1622.58 918.31,1623.17 925.54,1623.79 932.77,1624.43 939.99,1625.10 947.22,1625.79 954.45,1626.51 961.68,1627.26 968.91,1628.03 976.14,1628.82 983.36,1629.64 990.59,1630.49 997.82,1631.37 1005.05,1632.26 1012.28,1633.19 1019.50,1634.14 1026.73,1635.12 1033.96,1636.12 1041.19,1637.15 1048.42,1638.20 1055.65,1639.28 1062.87,1640.38 1070.10,1641.51 1077.33,1642.67 1084.56,1643.85 1091.79,1645.06 1099.02,1646.29 1106.24,1647.55 1113.47,1648.83 1120.70,1650.14 1127.93,1651.48" fill="none" stroke="#FFFF00" stroke-width="3.2"/>
<polyline points="694.23,1667.75 701.46,1667.75 708.69,1667.77 715.92,1667.80 723.15,1667.85 730.38,1667.91 737.60,1667.99 744.83,1668.09 752.06,1668.20 759.29,1668.33 766.52,1668.48 773.74,1668.64 780.97,1668.82 788.20,1669.01 795.43,1669.22 802.66,1669.45 809.89,1669.69 817.11,1669.95 824.34,1670.22 831.57,1670.51 838.80,1670.82 846.03,1671.14 853.26,1671.48 860.48,1671.84 867.71,1672.21 874.94,1672.60 882.17,1673.00 889.40,1673.42 896.62,1673.86 903.85,1674.31 911.08,1674.78 918.31,1675.26 925.54,1675.76 932.77,1676.28 939.99,1676.81 947.22,1677.36 954.45,1677.93 961.68,1678.51 968.91,1679.11 976.14,1679.72 983.36,1680.35 990.59,1681.00 997.82,1681.66 1005.05,1682.34 1012.28,1683.03 1019.50,1683.74 1026.73,1684.47 1033.96,1685.21 1041.19,1685.97 1048.42,1686.75 1055.65,1687.54 1062.87,1688.35 1070.10,1689.17 1077.33,1690.01 1084.56,1690.87 1091.79,1691.74 1099.02,1692.63 1106.24,1693.53 1113.47,1694.45 1120.70,1695.39 1127.93,1696.34" fill="none" stroke="#FF4040" stroke-width="3.2"/>
<polyline points="694.23,1708.07 701.46,1708.37 708.69,1708.67 715.92,1708.97 723.15,1709.28 730.38,1709.59 737.60,1709.91 744.83,1710.23 752.06,1710.56 759.29,1710.89 766.52,1711.22 773.74,1711.57 780.97,1711.91 788.20,1712.26 795.43,1712.62 802.66,1712.98 809.89,1713.35 817.11,1713.72 824.34,1714.09 831.57,1714.47 838.80,1714.86 846.03,1715.25 853.26,1715.64 860.48,1716.04 867.71,1716.44 874.94,1716.85 882.17,1717.27 889.40,1717.69 896.62,1718.11 903.85,1718.54 911.08,1718.97 918.31,1719.41 925.54,1719.85 932.77,1720.30 939.99,1720.75 947.22,1721.21 954.45,1721.67 961.68,1722.14 968.91,1722.61 976.14,1723.09 983.36,1723.57 990.59,1724.05 997.82,1724.55 1005.05,1725.04 1012.28,1725.54 1019.50,1726.05 1026.73,1726.56 1033.96,1727.07 1041.19,1727.59 1048.42,1728.12 1055.65,1728.65 1062.87,1729.18 1070.10,1729.72 1077.33,1730.27 1084.56,1730.82 1091.79,1731.37 1099.02,1731.93 1106.24,1732.49 1113.47,1733.06 1120.70,1733.63 1127.93,1734.21" fill="none" stroke="#FFA040" stroke-width="3.2"/>
<line x1="694.5" y1="1490.1" x2="694.5" y2="1495.8" stroke="#111" stroke-width="1.5"/>
<line x1="694.5" y1="1510.6" x2="694.5" y2="1517.2" stroke="#111" stroke-width="1.5"/>
<line x1="687.3" y1="1490.1" x2="701.7" y2="1490.1" stroke="#111" stroke-width="1.5"/>
<line x1="687.3" y1="1517.2" x2="701.7" y2="1517.2" stroke="#111" stroke-width="1.5"/>
<line x1="768.7" y1="1470.0" x2="768.7" y2="1478.3" stroke="#111" stroke-width="1.5"/>
<line x1="768.7" y1="1493.1" x2="768.7" y2="1500.8" stroke="#111" stroke-width="1.5"/>
<line x1="761.5" y1="1470.0" x2="775.9" y2="1470.0" stroke="#111" stroke-width="1.5"/>
<line x1="761.5" y1="1500.8" x2="775.9" y2="1500.8" stroke="#111" stroke-width="1.5"/>
<line x1="869.5" y1="1486.7" x2="869.5" y2="1491.8" stroke="#111" stroke-width="1.5"/>
<line x1="869.5" y1="1506.6" x2="869.5" y2="1511.8" stroke="#111" stroke-width="1.5"/>
<line x1="862.3" y1="1486.7" x2="876.7" y2="1486.7" stroke="#111" stroke-width="1.5"/>
<line x1="862.3" y1="1511.8" x2="876.7" y2="1511.8" stroke="#111" stroke-width="1.5"/>
<line x1="946.8" y1="1482.6" x2="946.8" y2="1491.0" stroke="#111" stroke-width="1.5"/>
<line x1="946.8" y1="1505.8" x2="946.8" y2="1513.8" stroke="#111" stroke-width="1.5"/>
<line x1="939.6" y1="1482.6" x2="954.0" y2="1482.6" stroke="#111" stroke-width="1.5"/>
<line x1="939.6" y1="1513.8" x2="954.0" y2="1513.8" stroke="#111" stroke-width="1.5"/>
<line x1="1025.8" y1="1474.2" x2="1025.8" y2="1483.8" stroke="#111" stroke-width="1.5"/>
<line x1="1025.8" y1="1498.6" x2="1025.8" y2="1508.1" stroke="#111" stroke-width="1.5"/>
<line x1="1018.6" y1="1474.2" x2="1033.0" y2="1474.2" stroke="#111" stroke-width="1.5"/>
<line x1="1018.6" y1="1508.1" x2="1033.0" y2="1508.1" stroke="#111" stroke-width="1.5"/>
<line x1="1128.6" y1="1505.9" x2="1128.6" y2="1512.5" stroke="#111" stroke-width="1.5"/>
<line x1="1128.6" y1="1527.3" x2="1128.6" y2="1534.1" stroke="#111" stroke-width="1.5"/>
<line x1="1121.4" y1="1505.9" x2="1135.8" y2="1505.9" stroke="#111" stroke-width="1.5"/>
<line x1="1121.4" y1="1534.1" x2="1135.8" y2="1534.1" stroke="#111" stroke-width="1.5"/>
<line x1="694.5" y1="1531.3" x2="694.5" y2="1539.5" stroke="#111" stroke-width="1.5"/>
<line x1="694.5" y1="1554.1" x2="694.5" y2="1561.0" stroke="#111" stroke-width="1.5"/>
<line x1="687.3" y1="1531.3" x2="701.7" y2="1531.3" stroke="#111" stroke-width="1.5"/>
<line x1="687.3" y1="1561.0" x2="701.7" y2="1561.0" stroke="#111" stroke-width="1.5"/>
<line x1="768.7" y1="1518.8" x2="768.7" y2="1528.6" stroke="#111" stroke-width="1.5"/>
<line x1="768.7" y1="1543.2" x2="768.7" y2="1553.4" stroke="#111" stroke-width="1.5"/>
<line x1="761.5" y1="1518.8" x2="775.9" y2="1518.8" stroke="#111" stroke-width="1.5"/>
<line x1="761.5" y1="1553.4" x2="775.9" y2="1553.4" stroke="#111" stroke-width="1.5"/>
<line x1="869.5" y1="1538.3" x2="869.5" y2="1543.5" stroke="#111" stroke-width="1.5"/>
<line x1="869.5" y1="1558.1" x2="869.5" y2="1563.4" stroke="#111" stroke-width="1.5"/>
<line x1="862.3" y1="1538.3" x2="876.7" y2="1538.3" stroke="#111" stroke-width="1.5"/>
<line x1="862.3" y1="1563.4" x2="876.7" y2="1563.4" stroke="#111" stroke-width="1.5"/>
<line x1="946.8" y1="1544.7" x2="946.8" y2="1547.6" stroke="#111" stroke-width="1.5"/>
<line x1="946.8" y1="1562.2" x2="946.8" y2="1565.1" stroke="#111" stroke-width="1.5"/>
<line x1="939.6" y1="1544.7" x2="954.0" y2="1544.7" stroke="#111" stroke-width="1.5"/>
<line x1="939.6" y1="1565.1" x2="954.0" y2="1565.1" stroke="#111" stroke-width="1.5"/>
<line x1="1025.8" y1="1540.2" x2="1025.8" y2="1544.9" stroke="#111" stroke-width="1.5"/>
<line x1="1025.8" y1="1559.5" x2="1025.8" y2="1564.4" stroke="#111" stroke-width="1.5"/>
<line x1="1018.6" y1="1540.2" x2="1033.0" y2="1540.2" stroke="#111" stroke-width="1.5"/>
<line x1="1018.6" y1="1564.4" x2="1033.0" y2="1564.4" stroke="#111" stroke-width="1.5"/>
<line x1="1128.6" y1="1573.6" x2="1128.6" y2="1577.6" stroke="#111" stroke-width="1.5"/>
<line x1="1128.6" y1="1592.2" x2="1128.6" y2="1595.6" stroke="#111" stroke-width="1.5"/>
<line x1="1121.4" y1="1573.6" x2="1135.8" y2="1573.6" stroke="#111" stroke-width="1.5"/>
<line x1="1121.4" y1="1595.6" x2="1135.8" y2="1595.6" stroke="#111" stroke-width="1.5"/>
<line x1="694.5" y1="1607.6" x2="694.5" y2="1611.5" stroke="#111" stroke-width="1.5"/>
<line x1="694.5" y1="1626.0" x2="694.5" y2="1629.7" stroke="#111" stroke-width="1.5"/>
<line x1="687.3" y1="1607.6" x2="701.7" y2="1607.6" stroke="#111" stroke-width="1.5"/>
<line x1="687.3" y1="1629.7" x2="701.7" y2="1629.7" stroke="#111" stroke-width="1.5"/>
<line x1="768.7" y1="1597.6" x2="768.7" y2="1604.4" stroke="#111" stroke-width="1.5"/>
<line x1="768.7" y1="1618.9" x2="768.7" y2="1626.3" stroke="#111" stroke-width="1.5"/>
<line x1="761.5" y1="1597.6" x2="775.9" y2="1597.6" stroke="#111" stroke-width="1.5"/>
<line x1="761.5" y1="1626.3" x2="775.9" y2="1626.3" stroke="#111" stroke-width="1.5"/>
<line x1="869.5" y1="1607.6" x2="869.5" y2="1617.5" stroke="#111" stroke-width="1.5"/>
<line x1="869.5" y1="1632.0" x2="869.5" y2="1639.8" stroke="#111" stroke-width="1.5"/>
<line x1="862.3" y1="1607.6" x2="876.7" y2="1607.6" stroke="#111" stroke-width="1.5"/>
<line x1="862.3" y1="1639.8" x2="876.7" y2="1639.8" stroke="#111" stroke-width="1.5"/>
<line x1="946.8" y1="1614.1" x2="946.8" y2="1621.3" stroke="#111" stroke-width="1.5"/>
<line x1="946.8" y1="1635.8" x2="946.8" y2="1643.5" stroke="#111" stroke-width="1.5"/>
<line x1="939.6" y1="1614.1" x2="954.0" y2="1614.1" stroke="#111" stroke-width="1.5"/>
<line x1="939.6" y1="1643.5" x2="954.0" y2="1643.5" stroke="#111" stroke-width="1.5"/>
<line x1="1025.8" y1="1608.0" x2="1025.8" y2="1622.4" stroke="#111" stroke-width="1.5"/>
<line x1="1025.8" y1="1636.9" x2="1025.8" y2="1650.9" stroke="#111" stroke-width="1.5"/>
<line x1="1018.6" y1="1608.0" x2="1033.0" y2="1608.0" stroke="#111" stroke-width="1.5"/>
<line x1="1018.6" y1="1650.9" x2="1033.0" y2="1650.9" stroke="#111" stroke-width="1.5"/>
<line x1="1128.6" y1="1641.2" x2="1128.6" y2="1645.0" stroke="#111" stroke-width="1.5"/>
<line x1="1128.6" y1="1659.5" x2="1128.6" y2="1664.5" stroke="#111" stroke-width="1.5"/>
<line x1="1121.4" y1="1641.2" x2="1135.8" y2="1641.2" stroke="#111" stroke-width="1.5"/>
<line x1="1121.4" y1="1664.5" x2="1135.8" y2="1664.5" stroke="#111" stroke-width="1.5"/>
<line x1="694.5" y1="1654.8" x2="694.5" y2="1661.6" stroke="#111" stroke-width="1.5"/>
<line x1="694.5" y1="1676.1" x2="694.5" y2="1682.5" stroke="#111" stroke-width="1.5"/>
<line x1="687.3" y1="1654.8" x2="701.7" y2="1654.8" stroke="#111" stroke-width="1.5"/>
<line x1="687.3" y1="1682.5" x2="701.7" y2="1682.5" stroke="#111" stroke-width="1.5"/>
<line x1="768.7" y1="1651.8" x2="768.7" y2="1659.6" stroke="#111" stroke-width="1.5"/>
<line x1="768.7" y1="1674.1" x2="768.7" y2="1681.9" stroke="#111" stroke-width="1.5"/>
<line x1="761.5" y1="1651.8" x2="775.9" y2="1651.8" stroke="#111" stroke-width="1.5"/>
<line x1="761.5" y1="1681.9" x2="775.9" y2="1681.9" stroke="#111" stroke-width="1.5"/>
<line x1="869.5" y1="1659.8" x2="869.5" y2="1664.6" stroke="#111" stroke-width="1.5"/>
<line x1="869.5" y1="1679.1" x2="869.5" y2="1686.3" stroke="#111" stroke-width="1.5"/>
<line x1="862.3" y1="1659.8" x2="876.7" y2="1659.8" stroke="#111" stroke-width="1.5"/>
<line x1="862.3" y1="1686.3" x2="876.7" y2="1686.3" stroke="#111" stroke-width="1.5"/>
<line x1="946.8" y1="1664.5" x2="946.8" y2="1671.7" stroke="#111" stroke-width="1.5"/>
<line x1="946.8" y1="1686.2" x2="946.8" y2="1693.8" stroke="#111" stroke-width="1.5"/>
<line x1="939.6" y1="1664.5" x2="954.0" y2="1664.5" stroke="#111" stroke-width="1.5"/>
<line x1="939.6" y1="1693.8" x2="954.0" y2="1693.8" stroke="#111" stroke-width="1.5"/>
<line x1="1025.8" y1="1663.3" x2="1025.8" y2="1676.2" stroke="#111" stroke-width="1.5"/>
<line x1="1025.8" y1="1690.7" x2="1025.8" y2="1702.2" stroke="#111" stroke-width="1.5"/>
<line x1="1018.6" y1="1663.3" x2="1033.0" y2="1663.3" stroke="#111" stroke-width="1.5"/>
<line x1="1018.6" y1="1702.2" x2="1033.0" y2="1702.2" stroke="#111" stroke-width="1.5"/>
<line x1="1128.6" y1="1682.5" x2="1128.6" y2="1689.8" stroke="#111" stroke-width="1.5"/>
<line x1="1128.6" y1="1704.3" x2="1128.6" y2="1710.8" stroke="#111" stroke-width="1.5"/>
<line x1="1121.4" y1="1682.5" x2="1135.8" y2="1682.5" stroke="#111" stroke-width="1.5"/>
<line x1="1121.4" y1="1710.8" x2="1135.8" y2="1710.8" stroke="#111" stroke-width="1.5"/>
<line x1="694.5" y1="1697.0" x2="694.5" y2="1701.6" stroke="#111" stroke-width="1.5"/>
<line x1="694.5" y1="1716.4" x2="694.5" y2="1726.7" stroke="#111" stroke-width="1.5"/>
<line x1="687.3" y1="1697.0" x2="701.7" y2="1697.0" stroke="#111" stroke-width="1.5"/>
<line x1="687.3" y1="1726.7" x2="701.7" y2="1726.7" stroke="#111" stroke-width="1.5"/>
<line x1="768.7" y1="1692.6" x2="768.7" y2="1698.6" stroke="#111" stroke-width="1.5"/>
<line x1="768.7" y1="1713.4" x2="768.7" y2="1720.7" stroke="#111" stroke-width="1.5"/>
<line x1="761.5" y1="1692.6" x2="775.9" y2="1692.6" stroke="#111" stroke-width="1.5"/>
<line x1="761.5" y1="1720.7" x2="775.9" y2="1720.7" stroke="#111" stroke-width="1.5"/>
<line x1="869.5" y1="1702.0" x2="869.5" y2="1708.1" stroke="#111" stroke-width="1.5"/>
<line x1="869.5" y1="1722.9" x2="869.5" y2="1729.5" stroke="#111" stroke-width="1.5"/>
<line x1="862.3" y1="1702.0" x2="876.7" y2="1702.0" stroke="#111" stroke-width="1.5"/>
<line x1="862.3" y1="1729.5" x2="876.7" y2="1729.5" stroke="#111" stroke-width="1.5"/>
<line x1="946.8" y1="1708.5" x2="946.8" y2="1713.1" stroke="#111" stroke-width="1.5"/>
<line x1="946.8" y1="1727.9" x2="946.8" y2="1732.3" stroke="#111" stroke-width="1.5"/>
<line x1="939.6" y1="1708.5" x2="954.0" y2="1708.5" stroke="#111" stroke-width="1.5"/>
<line x1="939.6" y1="1732.3" x2="954.0" y2="1732.3" stroke="#111" stroke-width="1.5"/>
<line x1="1025.8" y1="1716.4" x2="1025.8" y2="1725.5" stroke="#111" stroke-width="1.5"/>
<line x1="1025.8" y1="1740.3" x2="1025.8" y2="1748.7" stroke="#111" stroke-width="1.5"/>
<line x1="1018.6" y1="1716.4" x2="1033.0" y2="1716.4" stroke="#111" stroke-width="1.5"/>
<line x1="1018.6" y1="1748.7" x2="1033.0" y2="1748.7" stroke="#111" stroke-width="1.5"/>
<line x1="1128.6" y1="1718.2" x2="1128.6" y2="1723.7" stroke="#111" stroke-width="1.5"/>
<line x1="1128.6" y1="1738.5" x2="1128.6" y2="1743.6" stroke="#111" stroke-width="1.5"/>
<line x1="1121.4" y1="1718.2" x2="1135.8" y2="1718.2" stroke="#111" stroke-width="1.5"/>
<line x1="1121.4" y1="1743.6" x2="1135.8" y2="1743.6" stroke="#111" stroke-width="1.5"/>
<circle cx="694.5" cy="1503.2" r="7.4" fill="#000"/>
<circle cx="768.7" cy="1485.7" r="7.4" fill="#000"/>
<circle cx="869.5" cy="1499.2" r="7.4" fill="#000"/>
<circle cx="946.8" cy="1498.4" r="7.4" fill="#000"/>
<circle cx="1025.8" cy="1491.2" r="7.4" fill="#000"/>
<circle cx="1128.6" cy="1519.9" r="7.4" fill="#000"/>
<rect x="687.2" y="1539.5" width="14.6" height="14.6" fill="#000"/>
<rect x="761.4" y="1528.6" width="14.6" height="14.6" fill="#000"/>
<rect x="862.2" y="1543.5" width="14.6" height="14.6" fill="#000"/>
<rect x="939.5" y="1547.6" width="14.6" height="14.6" fill="#000"/>
<rect x="1018.5" y="1544.9" width="14.6" height="14.6" fill="#000"/>
<rect x="1121.3" y="1577.6" width="14.6" height="14.6" fill="#000"/>
<path d="M694.5,1611.5 L701.9,1626.0 L687.1,1626.0 Z" fill="#000"/>
<path d="M768.7,1604.4 L776.1,1618.9 L761.3,1618.9 Z" fill="#000"/>
<path d="M869.5,1617.5 L876.9,1632.0 L862.1,1632.0 Z" fill="#000"/>
<path d="M946.8,1621.3 L954.2,1635.8 L939.4,1635.8 Z" fill="#000"/>
<path d="M1025.8,1622.4 L1033.2,1636.9 L1018.4,1636.9 Z" fill="#000"/>
<path d="M1128.6,1645.0 L1136.0,1659.5 L1121.2,1659.5 Z" fill="#000"/>
<path d="M694.5,1676.1 L701.9,1661.6 L687.1,1661.6 Z" fill="#000"/>
<path d="M768.7,1674.1 L776.1,1659.6 L761.3,1659.6 Z" fill="#000"/>
<path d="M869.5,1679.1 L876.9,1664.6 L862.1,1664.6 Z" fill="#000"/>
<path d="M946.8,1686.2 L954.2,1671.7 L939.4,1671.7 Z" fill="#000"/>
<path d="M1025.8,1690.7 L1033.2,1676.2 L1018.4,1676.2 Z" fill="#000"/>
<path d="M1128.6,1704.3 L1136.0,1689.8 L1121.2,1689.8 Z" fill="#000"/>
<path d="M694.5,1701.6 L701.9,1709.0 L694.5,1716.4 L687.1,1709.0 Z" fill="#000"/>
<path d="M768.7,1698.6 L776.1,1706.0 L768.7,1713.4 L761.3,1706.0 Z" fill="#000"/>
<path d="M869.5,1708.1 L876.9,1715.5 L869.5,1722.9 L862.1,1715.5 Z" fill="#000"/>
<path d="M946.8,1713.1 L954.2,1720.5 L946.8,1727.9 L939.4,1720.5 Z" fill="#000"/>
<path d="M1025.8,1725.5 L1033.2,1732.9 L1025.8,1740.3 L1018.4,1732.9 Z" fill="#000"/>
<path d="M1128.6,1723.7 L1136.0,1731.1 L1128.6,1738.5 L1121.2,1731.1 Z" fill="#000"/>
<circle cx="855.8" cy="1491.1" r="10.7" fill="none" stroke="#00F8F8" stroke-width="2.3"/>
<line x1="845.1" y1="1491.1" x2="866.5" y2="1491.1" stroke="#00F8F8" stroke-width="2.1"/>
<line x1="855.8" y1="1480.4" x2="855.8" y2="1501.8" stroke="#00F8F8" stroke-width="2.1"/>
<circle cx="788.5" cy="1540.3" r="10.7" fill="none" stroke="#00F8F8" stroke-width="2.3"/>
<line x1="777.8" y1="1540.3" x2="799.2" y2="1540.3" stroke="#00F8F8" stroke-width="2.1"/>
<line x1="788.5" y1="1529.6" x2="788.5" y2="1551.0" stroke="#00F8F8" stroke-width="2.1"/>
<circle cx="741.3" cy="1614.6" r="10.7" fill="none" stroke="#00F8F8" stroke-width="2.3"/>
<line x1="730.6" y1="1614.6" x2="752.0" y2="1614.6" stroke="#00F8F8" stroke-width="2.1"/>
<line x1="741.3" y1="1603.9" x2="741.3" y2="1625.3" stroke="#00F8F8" stroke-width="2.1"/>
<circle cx="699.8" cy="1666.9" r="10.7" fill="none" stroke="#00F8F8" stroke-width="2.3"/>
<line x1="689.1" y1="1666.9" x2="710.5" y2="1666.9" stroke="#00F8F8" stroke-width="2.1"/>
<line x1="699.8" y1="1656.2" x2="699.8" y2="1677.6" stroke="#00F8F8" stroke-width="2.1"/>
<circle cx="691.1" cy="1708.0" r="10.7" fill="none" stroke="#00F8F8" stroke-width="2.3"/>
<line x1="680.4" y1="1708.0" x2="701.8" y2="1708.0" stroke="#00F8F8" stroke-width="2.1"/>
<line x1="691.1" y1="1697.3" x2="691.1" y2="1718.7" stroke="#00F8F8" stroke-width="2.1"/>
<path d="M647.0,1432.5 V1777.1 H1163.9" fill="none" stroke="#000" stroke-width="3.4"/>
<line x1="633.5" y1="1777.1" x2="647.0" y2="1777.1" stroke="#000" stroke-width="3.4"/>
<text x="628.5" y="1786.8" font-size="27" font-weight="bold" text-anchor="end" transform="matrix(1 0 0 1.03 0 -53.60)" >20</text>
<line x1="633.5" y1="1708.5" x2="647.0" y2="1708.5" stroke="#000" stroke-width="3.4"/>
<text x="628.5" y="1718.2" font-size="27" font-weight="bold" text-anchor="end" transform="matrix(1 0 0 1.03 0 -51.55)" >25</text>
<line x1="633.5" y1="1639.9" x2="647.0" y2="1639.9" stroke="#000" stroke-width="3.4"/>
<text x="628.5" y="1649.6" font-size="27" font-weight="bold" text-anchor="end" transform="matrix(1 0 0 1.03 0 -49.49)" >30</text>
<line x1="633.5" y1="1571.2" x2="647.0" y2="1571.2" stroke="#000" stroke-width="3.4"/>
<text x="628.5" y="1580.9" font-size="27" font-weight="bold" text-anchor="end" transform="matrix(1 0 0 1.03 0 -47.43)" >35</text>
<line x1="633.5" y1="1502.6" x2="647.0" y2="1502.6" stroke="#000" stroke-width="3.4"/>
<text x="628.5" y="1512.3" font-size="27" font-weight="bold" text-anchor="end" transform="matrix(1 0 0 1.03 0 -45.37)" >40</text>
<line x1="633.5" y1="1434.0" x2="647.0" y2="1434.0" stroke="#000" stroke-width="3.4"/>
<text x="628.5" y="1443.7" font-size="27" font-weight="bold" text-anchor="end" transform="matrix(1 0 0 1.03 0 -43.31)" >45</text>
<line x1="647.0" y1="1777.1" x2="647.0" y2="1790.9" stroke="#000" stroke-width="3.4"/>
<text x="647.0" y="1819.7" font-size="27" font-weight="bold" text-anchor="middle" transform="matrix(1 0 0 1.03 0 -54.59)" >20</text>
<line x1="689.9" y1="1777.1" x2="689.9" y2="1784.1" stroke="#000" stroke-width="3.4"/>
<line x1="732.9" y1="1777.1" x2="732.9" y2="1790.9" stroke="#000" stroke-width="3.4"/>
<text x="732.9" y="1819.7" font-size="27" font-weight="bold" text-anchor="middle" transform="matrix(1 0 0 1.03 0 -54.59)" >30</text>
<line x1="775.8" y1="1777.1" x2="775.8" y2="1784.1" stroke="#000" stroke-width="3.4"/>
<line x1="818.8" y1="1777.1" x2="818.8" y2="1790.9" stroke="#000" stroke-width="3.4"/>
<text x="818.8" y="1819.7" font-size="27" font-weight="bold" text-anchor="middle" transform="matrix(1 0 0 1.03 0 -54.59)" >40</text>
<line x1="861.7" y1="1777.1" x2="861.7" y2="1784.1" stroke="#000" stroke-width="3.4"/>
<line x1="904.6" y1="1777.1" x2="904.6" y2="1790.9" stroke="#000" stroke-width="3.4"/>
<text x="904.6" y="1819.7" font-size="27" font-weight="bold" text-anchor="middle" transform="matrix(1 0 0 1.03 0 -54.59)" >50</text>
<line x1="947.6" y1="1777.1" x2="947.6" y2="1784.1" stroke="#000" stroke-width="3.4"/>
<line x1="990.5" y1="1777.1" x2="990.5" y2="1790.9" stroke="#000" stroke-width="3.4"/>
<text x="990.5" y="1819.7" font-size="27" font-weight="bold" text-anchor="middle" transform="matrix(1 0 0 1.03 0 -54.59)" >60</text>
<line x1="1033.5" y1="1777.1" x2="1033.5" y2="1784.1" stroke="#000" stroke-width="3.4"/>
<line x1="1076.4" y1="1777.1" x2="1076.4" y2="1790.9" stroke="#000" stroke-width="3.4"/>
<text x="1076.4" y="1819.7" font-size="27" font-weight="bold" text-anchor="middle" transform="matrix(1 0 0 1.03 0 -54.59)" >70</text>
<line x1="1119.3" y1="1777.1" x2="1119.3" y2="1784.1" stroke="#000" stroke-width="3.4"/>
<line x1="1162.3" y1="1777.1" x2="1162.3" y2="1790.9" stroke="#000" stroke-width="3.4"/>
<text x="1162.3" y="1819.7" font-size="27" font-weight="bold" text-anchor="middle" transform="matrix(1 0 0 1.03 0 -54.59)" >80</text>
<text transform="translate(579.6,1739.2) rotate(-90) scale(1,1.05)" font-size="35" font-weight="bold" letter-spacing="1.1">Thickness (µm)</text>
<text x="869.3" y="1868.7" font-size="35" font-weight="bold" text-anchor="start" transform="matrix(1 0 0 1.04 0 -74.75)" letter-spacing="2.2">Age</text>
<rect x="83.0" y="658.8" width="70.5" height="66.9" fill="#00B050"/>
<rect x="83.0" y="725.2" width="70.5" height="70.3" fill="#00B0F0"/>
<rect x="83.0" y="795.0" width="70.5" height="70.3" fill="#FFFF00"/>
<rect x="83.0" y="864.8" width="70.5" height="70.1" fill="#FF0000"/>
<rect x="83.0" y="934.4" width="70.5" height="70.1" fill="#FFC000"/>
<rect x="83.0" y="1004.0" width="70.5" height="70.8" fill="#0070C0"/>
<rect x="83.0" y="1074.3" width="70.5" height="71.1" fill="#7030A0"/>
<rect x="82.00" y="573.60" width="1108.80" height="2.80" fill="#000"/>
<rect x="82.00" y="575.00" width="2.00" height="570.50" fill="#000"/>
<rect x="1188.60" y="575.00" width="2.40" height="709.70" fill="#000"/>
<rect x="82.00" y="652.50" width="1108.80" height="6.30" fill="#000"/>
<rect x="82.00" y="724.10" width="1108.80" height="2.20" fill="#000"/>
<rect x="82.00" y="793.90" width="1108.80" height="2.20" fill="#000"/>
<rect x="82.00" y="863.70" width="1108.80" height="2.20" fill="#000"/>
<rect x="82.00" y="933.30" width="1108.80" height="2.20" fill="#000"/>
<rect x="82.00" y="1002.90" width="1108.80" height="2.20" fill="#000"/>
<rect x="82.00" y="1073.20" width="1108.80" height="2.20" fill="#000"/>
<rect x="82.00" y="1143.80" width="72.00" height="2.20" fill="#000"/>
<rect x="153.00" y="1141.80" width="1037.80" height="6.20" fill="#000"/>
<rect x="155.60" y="1212.40" width="1034.20" height="2.40" fill="#000"/>
<rect x="155.60" y="1281.90" width="1034.20" height="2.80" fill="#000"/>
<rect x="155.60" y="1141.80" width="2.10" height="142.90" fill="#000"/>
<rect x="153.00" y="575.00" width="6.20" height="573.00" fill="#000"/>
<rect x="615.20" y="575.00" width="6.70" height="573.00" fill="#000"/>
<rect x="887.00" y="575.00" width="6.50" height="709.70" fill="#000"/>
<text x="387.2" y="609.8" font-size="26.5" font-weight="bold" text-anchor="middle" transform="matrix(1 0 0 1.05 0 -30.49)" >Age-correction</text>
<text x="387.2" y="641.5" font-size="26.5" font-weight="bold" text-anchor="middle" transform="matrix(1 0 0 1.05 0 -32.08)" >regression functions</text>
<text x="754.5" y="609.8" font-size="26.5" font-weight="bold" text-anchor="middle" transform="matrix(1 0 0 1.05 0 -30.49)" >Vertex age</text>
<text x="1039.9" y="609.8" font-size="26.5" font-weight="bold" text-anchor="middle" transform="matrix(1 0 0 1.05 0 -30.49)" >Slope µm/yr</text>
<text x="1039.9" y="641.5" font-size="26.5" font-weight="bold" text-anchor="middle" transform="matrix(1 0 0 1.05 0 -32.08)" >(% of peak thickness)</text>
<text x="119.3" y="699.8" font-size="26.5" font-weight="bold" text-anchor="middle" transform="matrix(1 0 0 1.05 0 -34.99)">C<tspan font-size="18" dy="5.5">1</tspan></text>
<text x="387.7" y="699.8" font-size="26.15" text-anchor="middle" transform="matrix(1 0 0 1.05 0 -34.99)"><tspan font-style="italic">y</tspan> = -0.002649<tspan font-style="italic">x</tspan><tspan font-size="17" dy="-10">2</tspan><tspan dy="10"> + 0.2131</tspan><tspan font-style="italic">x</tspan> + 39.17</text>
<text x="754.5" y="699.8" font-size="26.5" font-weight="normal" text-anchor="middle" transform="matrix(1 0 0 1.05 0 -34.99)" >40.2</text>
<text x="1039.9" y="699.8" font-size="26.5" font-weight="normal" text-anchor="middle" transform="matrix(1 0 0 1.05 0 -34.99)" >-0.152 (-0.35)</text>
<text x="119.3" y="769.6" font-size="26.5" font-weight="bold" text-anchor="middle" transform="matrix(1 0 0 1.05 0 -38.48)">C<tspan font-size="18" dy="5.5">2</tspan></text>
<text x="387.7" y="769.6" font-size="26.15" text-anchor="middle" transform="matrix(1 0 0 1.05 0 -38.48)"><tspan font-style="italic">y</tspan> = -0.00224<tspan font-style="italic">x</tspan><tspan font-size="17" dy="-10">2</tspan><tspan dy="10"> + 0.1637</tspan><tspan font-style="italic">x</tspan> + 37.37</text>
<text x="754.5" y="769.6" font-size="26.5" font-weight="normal" text-anchor="middle" transform="matrix(1 0 0 1.05 0 -38.48)" >36.5</text>
<text x="1039.9" y="769.6" font-size="26.5" font-weight="normal" text-anchor="middle" transform="matrix(1 0 0 1.05 0 -38.48)" >-0.1464 (-0.36)</text>
<text x="119.3" y="839.5" font-size="26.5" font-weight="bold" text-anchor="middle" transform="matrix(1 0 0 1.05 0 -41.97)">C<tspan font-size="18" dy="5.5">3</tspan></text>
<text x="387.7" y="839.5" font-size="26.15" text-anchor="middle" transform="matrix(1 0 0 1.05 0 -41.97)"><tspan font-style="italic">y</tspan> = -0.002437<tspan font-style="italic">x</tspan><tspan font-size="17" dy="-10">2</tspan><tspan dy="10"> + 0.1956</tspan><tspan font-style="italic">x</tspan> + 30.37</text>
<text x="754.5" y="839.5" font-size="26.5" font-weight="normal" text-anchor="middle" transform="matrix(1 0 0 1.05 0 -41.98)" >40.1</text>
<text x="1039.9" y="839.5" font-size="26.5" font-weight="normal" text-anchor="middle" transform="matrix(1 0 0 1.05 0 -41.98)" >-0.1326 (-0.39)</text>
<text x="119.3" y="909.3" font-size="26.5" font-weight="bold" text-anchor="middle" transform="matrix(1 0 0 1.05 0 -45.46)">C<tspan font-size="18" dy="5.5">4</tspan></text>
<text x="387.7" y="909.3" font-size="26.15" text-anchor="middle" transform="matrix(1 0 0 1.05 0 -45.46)"><tspan font-style="italic">y</tspan> = -0.001583<tspan font-style="italic">x</tspan><tspan font-size="17" dy="-10">2</tspan><tspan dy="10"> + 0.1162</tspan><tspan font-style="italic">x</tspan> + 27.99</text>
<text x="754.5" y="909.3" font-size="26.5" font-weight="normal" text-anchor="middle" transform="matrix(1 0 0 1.05 0 -45.47)" >36.7</text>
<text x="1039.9" y="909.3" font-size="26.5" font-weight="normal" text-anchor="middle" transform="matrix(1 0 0 1.05 0 -45.47)" >-0.09027 (-0.3)</text>
<text x="119.3" y="979.1" font-size="26.5" font-weight="bold" text-anchor="middle" transform="matrix(1 0 0 1.05 0 -48.96)">C<tspan font-size="18" dy="5.5">5</tspan></text>
<text x="387.7" y="979.1" font-size="26.15" text-anchor="middle" transform="matrix(1 0 0 1.05 0 -48.96)"><tspan font-style="italic">y</tspan> = -0.001502<tspan font-style="italic">x</tspan><tspan font-size="17" dy="-10">2</tspan><tspan dy="10"> + 0.1174</tspan><tspan font-style="italic">x</tspan> + 24.66</text>
<text x="754.5" y="979.1" font-size="26.5" font-weight="normal" text-anchor="middle" transform="matrix(1 0 0 1.05 0 -48.96)" >39.1</text>
<text x="1039.9" y="979.1" font-size="26.5" font-weight="normal" text-anchor="middle" transform="matrix(1 0 0 1.05 0 -48.96)" >-0.07954 (-0.3)</text>
<text x="119.3" y="1048.9" font-size="26.5" font-weight="bold" text-anchor="middle" transform="matrix(1 0 0 1.05 0 -52.45)">C<tspan font-size="18" dy="5.5">6</tspan></text>
<text x="387.7" y="1048.9" font-size="26.15" text-anchor="middle" transform="matrix(1 0 0 1.05 0 -52.45)"><tspan font-style="italic">y</tspan> = -0.001057<tspan font-style="italic">x</tspan><tspan font-size="17" dy="-10">2</tspan><tspan dy="10"> + 0.08398</tspan><tspan font-style="italic">x</tspan> + 20.37</text>
<text x="754.5" y="1048.9" font-size="26.5" font-weight="normal" text-anchor="middle" transform="matrix(1 0 0 1.05 0 -52.45)" >39.7</text>
<text x="1039.9" y="1048.9" font-size="26.5" font-weight="normal" text-anchor="middle" transform="matrix(1 0 0 1.05 0 -52.45)" >-0.05826 (-0.26)</text>
<text x="119.3" y="1118.8" font-size="26.5" font-weight="bold" text-anchor="middle" transform="matrix(1 0 0 1.05 0 -55.94)">C<tspan font-size="18" dy="5.5">7</tspan></text>
<text x="387.7" y="1118.8" font-size="26.15" text-anchor="middle" transform="matrix(1 0 0 1.05 0 -55.94)"><tspan font-style="italic">y</tspan> = -0.001027<tspan font-style="italic">x</tspan><tspan font-size="17" dy="-10">2</tspan><tspan dy="10"> + 0.113</tspan><tspan font-style="italic">x</tspan> + 14.94</text>
<text x="754.5" y="1118.8" font-size="26.5" font-weight="normal" text-anchor="middle" transform="matrix(1 0 0 1.05 0 -55.94)" >55</text>
<text x="1039.9" y="1118.8" font-size="26.5" font-weight="normal" text-anchor="middle" transform="matrix(1 0 0 1.05 0 -55.94)" >-0.0205 (-0.11)</text>
<text x="869.8" y="1188.8" font-size="26.5" font-weight="bold" text-anchor="end" transform="matrix(1 0 0 1.05 0 -59.44)" >Comparison of slopes</text>
<text x="869.8" y="1257.1" font-size="26.5" font-weight="bold" text-anchor="end" transform="matrix(1 0 0 1.05 0 -62.86)" >Pooled slope</text>
<text x="1039.9" y="1188.8" font-size="26.5" font-weight="normal" text-anchor="middle" transform="matrix(1 0 0 1.05 0 -59.44)" >All slopes, p = 0.88</text>
<text x="1039.9" y="1257.1" font-size="26.5" font-weight="normal" text-anchor="middle" transform="matrix(1 0 0 1.05 0 -62.86)" >-0.09708</text>
<rect x="81.0" y="1986.7" width="70.8" height="67.1" fill="#00B050"/>
<rect x="81.0" y="2053.3" width="70.8" height="70.8" fill="#00B0F0"/>
<rect x="81.0" y="2123.6" width="70.8" height="70.8" fill="#FFFF00"/>
<rect x="81.0" y="2193.9" width="70.8" height="70.9" fill="#FF0000"/>
<rect x="81.0" y="2264.3" width="70.8" height="70.5" fill="#FFC000"/>
<rect x="80.00" y="1902.00" width="1110.20" height="2.80" fill="#000"/>
<rect x="80.00" y="1903.40" width="2.00" height="431.50" fill="#000"/>
<rect x="1188.00" y="1903.40" width="2.40" height="572.30" fill="#000"/>
<rect x="80.00" y="1980.00" width="1110.20" height="6.70" fill="#000"/>
<rect x="80.00" y="2052.20" width="1110.20" height="2.20" fill="#000"/>
<rect x="80.00" y="2122.50" width="1110.20" height="2.20" fill="#000"/>
<rect x="80.00" y="2192.80" width="1110.20" height="2.20" fill="#000"/>
<rect x="80.00" y="2263.20" width="1110.20" height="2.20" fill="#000"/>
<rect x="80.00" y="2333.20" width="72.30" height="2.20" fill="#000"/>
<rect x="151.30" y="2331.20" width="1038.90" height="6.20" fill="#000"/>
<rect x="153.90" y="2403.20" width="1035.30" height="2.40" fill="#000"/>
<rect x="153.90" y="2472.90" width="1035.30" height="2.80" fill="#000"/>
<rect x="153.90" y="2331.20" width="2.10" height="144.50" fill="#000"/>
<rect x="151.30" y="1903.40" width="6.20" height="434.00" fill="#000"/>
<rect x="613.00" y="1903.40" width="7.20" height="434.00" fill="#000"/>
<rect x="885.60" y="1903.40" width="6.60" height="572.30" fill="#000"/>
<text x="385.2" y="1937.7" font-size="26.5" font-weight="bold" text-anchor="middle" transform="matrix(1 0 0 1.05 0 -96.89)" >Age-correction</text>
<text x="385.2" y="1969.4" font-size="26.5" font-weight="bold" text-anchor="middle" transform="matrix(1 0 0 1.05 0 -98.47)" >regression functions</text>
<text x="752.9" y="1937.7" font-size="26.5" font-weight="bold" text-anchor="middle" transform="matrix(1 0 0 1.05 0 -96.89)" >Vertex age</text>
<text x="1038.9" y="1937.7" font-size="26.5" font-weight="bold" text-anchor="middle" transform="matrix(1 0 0 1.05 0 -96.89)" >Slope µm/yr</text>
<text x="1038.9" y="1969.4" font-size="26.5" font-weight="bold" text-anchor="middle" transform="matrix(1 0 0 1.05 0 -98.47)" >(% of peak thickness)</text>
<text x="117.0" y="2028.6" font-size="26.5" font-weight="bold" text-anchor="middle" transform="matrix(1 0 0 1.05 0 -101.43)">C<tspan font-size="18" dy="5.5">1</tspan></text>
<text x="385.8" y="2028.6" font-size="26.15" text-anchor="middle" transform="matrix(1 0 0 1.05 0 -101.43)"><tspan font-style="italic">y</tspan> = -0.001884<tspan font-style="italic">x</tspan><tspan font-size="17" dy="-10">2</tspan><tspan dy="10"> + 0.1682</tspan><tspan font-style="italic">x</tspan> + 37.07</text>
<text x="752.9" y="2028.6" font-size="26.5" font-weight="normal" text-anchor="middle" transform="matrix(1 0 0 1.05 0 -101.43)" >44.6</text>
<text x="1038.9" y="2028.6" font-size="26.5" font-weight="normal" text-anchor="middle" transform="matrix(1 0 0 1.05 0 -101.43)" >-0.04369 (-0.11)</text>
<text x="117.0" y="2098.8" font-size="26.5" font-weight="bold" text-anchor="middle" transform="matrix(1 0 0 1.05 0 -104.94)">C<tspan font-size="18" dy="5.5">2</tspan></text>
<text x="385.8" y="2098.8" font-size="26.15" text-anchor="middle" transform="matrix(1 0 0 1.05 0 -104.94)"><tspan font-style="italic">y</tspan> = -0.001805<tspan font-style="italic">x</tspan><tspan font-size="17" dy="-10">2</tspan><tspan dy="10"> + 0.1291</tspan><tspan font-style="italic">x</tspan> + 34.84</text>
<text x="752.9" y="2098.8" font-size="26.5" font-weight="normal" text-anchor="middle" transform="matrix(1 0 0 1.05 0 -104.94)" >35.8</text>
<text x="1038.9" y="2098.8" font-size="26.5" font-weight="normal" text-anchor="middle" transform="matrix(1 0 0 1.05 0 -104.94)" >-0.07721 (-0.21)</text>
<text x="117.0" y="2169.0" font-size="26.5" font-weight="bold" text-anchor="middle" transform="matrix(1 0 0 1.05 0 -108.45)">C<tspan font-size="18" dy="5.5">3</tspan></text>
<text x="385.8" y="2169.0" font-size="26.15" text-anchor="middle" transform="matrix(1 0 0 1.05 0 -108.45)"><tspan font-style="italic">y</tspan> = -0.00132<tspan font-style="italic">x</tspan><tspan font-size="17" dy="-10">2</tspan><tspan dy="10"> + 0.08392</tspan><tspan font-style="italic">x</tspan> + 30.4</text>
<text x="752.9" y="2169.0" font-size="26.5" font-weight="normal" text-anchor="middle" transform="matrix(1 0 0 1.05 0 -108.45)" >31.8</text>
<text x="1038.9" y="2169.0" font-size="26.5" font-weight="normal" text-anchor="middle" transform="matrix(1 0 0 1.05 0 -108.45)" >-0.06461 (-0.2)</text>
<text x="117.0" y="2239.2" font-size="26.5" font-weight="bold" text-anchor="middle" transform="matrix(1 0 0 1.05 0 -111.96)">C<tspan font-size="18" dy="5.5">4</tspan></text>
<text x="385.8" y="2239.2" font-size="26.15" text-anchor="middle" transform="matrix(1 0 0 1.05 0 -111.96)"><tspan font-style="italic">y</tspan> = -0.0008307<tspan font-style="italic">x</tspan><tspan font-size="17" dy="-10">2</tspan><tspan dy="10"> + 0.04306</tspan><tspan font-style="italic">x</tspan> + 27.41</text>
<text x="752.9" y="2239.2" font-size="26.5" font-weight="normal" text-anchor="middle" transform="matrix(1 0 0 1.05 0 -111.96)" >25.9</text>
<text x="1038.9" y="2239.2" font-size="26.5" font-weight="normal" text-anchor="middle" transform="matrix(1 0 0 1.05 0 -111.96)" >-0.05011 (-0.18)</text>
<text x="117.0" y="2309.4" font-size="26.5" font-weight="bold" text-anchor="middle" transform="matrix(1 0 0 1.05 0 -115.47)">C<tspan font-size="18" dy="5.5">5</tspan></text>
<text x="385.8" y="2309.4" font-size="26.15" text-anchor="middle" transform="matrix(1 0 0 1.05 0 -115.47)"><tspan font-style="italic">y</tspan> = -0.0002483<tspan font-style="italic">x</tspan><tspan font-size="17" dy="-10">2</tspan><tspan dy="10"> - 0.01251</tspan><tspan font-style="italic">x</tspan> + 25.51</text>
<text x="752.9" y="2309.4" font-size="26.5" font-weight="normal" text-anchor="middle" transform="matrix(1 0 0 1.05 0 -115.47)" >25.2</text>
<text x="1038.9" y="2309.4" font-size="26.5" font-weight="normal" text-anchor="middle" transform="matrix(1 0 0 1.05 0 -115.47)" >-0.03755 (-0.15)</text>
<text x="868.4" y="2380.2" font-size="26.5" font-weight="bold" text-anchor="end" transform="matrix(1 0 0 1.05 0 -119.01)" >Comparison of slopes</text>
<text x="868.4" y="2450.3" font-size="26.5" font-weight="bold" text-anchor="end" transform="matrix(1 0 0 1.05 0 -122.52)" >Pooled slope</text>
<text x="1038.9" y="2380.2" font-size="26.5" font-weight="normal" text-anchor="middle" transform="matrix(1 0 0 1.05 0 -119.01)" >All slopes, p = 0.53</text>
<text x="1038.9" y="2450.3" font-size="26.5" font-weight="normal" text-anchor="middle" transform="matrix(1 0 0 1.05 0 -122.52)" >-0.05078</text>
<text x="748.7" y="2471.6" font-size="37.5" text-anchor="middle" transform="matrix(1 0 0 1.05 0 -123.58)" style="font-family:'Liberation Serif',serif">15</text>
</svg></body></html>
